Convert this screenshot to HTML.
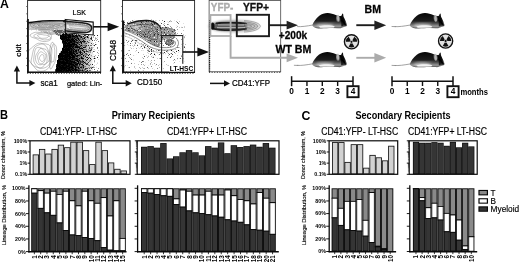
<!DOCTYPE html>
<html><head><meta charset="utf-8"><title>Figure</title>
<style>
html,body{margin:0;padding:0;background:#fff;}
body{width:520px;height:262px;overflow:hidden;}
svg{display:block;font-family:'Liberation Sans', sans-serif;}
</style></head><body>
<svg width="520" height="262" viewBox="0 0 520 262">
<rect width="520" height="262" fill="#fff"/>
<defs>
<marker id="ah" markerWidth="4" markerHeight="4" refX="0.5" refY="2" orient="auto" markerUnits="strokeWidth"><path d="M0,0 L4,2 L0,4 z" fill="#111"/></marker>
</defs>

<text x="0.1" y="8.4" font-size="12.3" font-weight="bold" fill="#000" text-anchor="start" >A</text>
<text x="0.0" y="118.9" font-size="12.3" font-weight="bold" fill="#000" text-anchor="start" textLength="8" lengthAdjust="spacingAndGlyphs" >B</text>
<text x="301.6" y="119.7" font-size="12.3" font-weight="bold" fill="#000" text-anchor="start" >C</text>
<text x="111.7" y="119.3" font-size="10" font-weight="bold" fill="#000" text-anchor="start" textLength="83.5" lengthAdjust="spacingAndGlyphs" >Primary Recipients</text>
<text x="355.5" y="119.3" font-size="10" font-weight="bold" fill="#000" text-anchor="start" textLength="95" lengthAdjust="spacingAndGlyphs" >Secondary Recipients</text>
<text x="40" y="135" font-size="10" font-weight="normal" fill="#000" text-anchor="start" textLength="77" lengthAdjust="spacingAndGlyphs" stroke="#000" stroke-width="0.18">CD41:YFP- LT-HSC</text>
<text x="167" y="135" font-size="10" font-weight="normal" fill="#000" text-anchor="start" textLength="80" lengthAdjust="spacingAndGlyphs" stroke="#000" stroke-width="0.18">CD41:YFP+ LT-HSC</text>
<text x="321.2" y="135" font-size="10" font-weight="normal" fill="#000" text-anchor="start" textLength="77" lengthAdjust="spacingAndGlyphs" stroke="#000" stroke-width="0.18">CD41:YFP- LT-HSC</text>
<text x="408" y="135" font-size="10" font-weight="normal" fill="#000" text-anchor="start" textLength="79" lengthAdjust="spacingAndGlyphs" stroke="#000" stroke-width="0.18">CD41:YFP+ LT-HSC</text>
<text transform="translate(5.3 155) rotate(-90)" font-size="5.3" font-weight="normal" fill="#000" text-anchor="middle" stroke="#000" stroke-width="0.12" textLength="48" lengthAdjust="spacingAndGlyphs">Donor chimerism, %</text>
<text transform="translate(5.9 215) rotate(-90)" font-size="5.3" font-weight="normal" fill="#000" text-anchor="middle" stroke="#000" stroke-width="0.12" textLength="60.5" lengthAdjust="spacingAndGlyphs">Lineage Distribution, %</text>
<text transform="translate(305.4 155) rotate(-90)" font-size="5.3" font-weight="normal" fill="#000" text-anchor="middle" stroke="#000" stroke-width="0.12" textLength="48" lengthAdjust="spacingAndGlyphs">Donor chimerism, %</text>
<text transform="translate(306.4 215) rotate(-90)" font-size="5.3" font-weight="normal" fill="#000" text-anchor="middle" stroke="#000" stroke-width="0.12" textLength="60.5" lengthAdjust="spacingAndGlyphs">Lineage Distribution, %</text>
<rect x="32.70" y="154.46" width="6.27" height="19.84" fill="#0a0a0a"/>
<rect x="33.50" y="155.26" width="4.67" height="18.24" fill="#d2d2d2"/>
<rect x="38.97" y="148.96" width="6.27" height="25.34" fill="#0a0a0a"/>
<rect x="39.77" y="149.76" width="4.67" height="23.74" fill="#d2d2d2"/>
<rect x="45.25" y="153.62" width="6.27" height="20.68" fill="#0a0a0a"/>
<rect x="46.05" y="154.42" width="4.67" height="19.08" fill="#d2d2d2"/>
<rect x="51.52" y="148.96" width="6.27" height="25.34" fill="#0a0a0a"/>
<rect x="52.32" y="149.76" width="4.67" height="23.74" fill="#d2d2d2"/>
<rect x="57.79" y="144.73" width="6.27" height="29.57" fill="#0a0a0a"/>
<rect x="58.59" y="145.53" width="4.67" height="27.97" fill="#d2d2d2"/>
<rect x="64.07" y="147.27" width="6.27" height="27.03" fill="#0a0a0a"/>
<rect x="64.87" y="148.07" width="4.67" height="25.43" fill="#d2d2d2"/>
<rect x="70.34" y="141.77" width="6.27" height="32.53" fill="#0a0a0a"/>
<rect x="71.14" y="142.57" width="4.67" height="30.93" fill="#d2d2d2"/>
<rect x="76.61" y="141.77" width="6.27" height="32.53" fill="#0a0a0a"/>
<rect x="77.41" y="142.57" width="4.67" height="30.93" fill="#d2d2d2"/>
<rect x="82.89" y="150.23" width="6.27" height="24.07" fill="#0a0a0a"/>
<rect x="83.69" y="151.03" width="4.67" height="22.47" fill="#d2d2d2"/>
<rect x="89.16" y="164.19" width="6.27" height="10.11" fill="#0a0a0a"/>
<rect x="89.96" y="164.99" width="4.67" height="8.51" fill="#d2d2d2"/>
<rect x="95.43" y="141.77" width="6.27" height="32.53" fill="#0a0a0a"/>
<rect x="96.23" y="142.57" width="4.67" height="30.93" fill="#d2d2d2"/>
<rect x="101.71" y="150.23" width="6.27" height="24.07" fill="#0a0a0a"/>
<rect x="102.51" y="151.03" width="4.67" height="22.47" fill="#d2d2d2"/>
<rect x="107.98" y="162.50" width="6.27" height="11.80" fill="#0a0a0a"/>
<rect x="108.78" y="163.30" width="4.67" height="10.20" fill="#d2d2d2"/>
<rect x="114.25" y="168.85" width="6.27" height="5.45" fill="#0a0a0a"/>
<rect x="115.05" y="169.65" width="4.67" height="3.85" fill="#d2d2d2"/>
<rect x="120.53" y="170.54" width="6.27" height="3.76" fill="#0a0a0a"/>
<rect x="121.33" y="171.34" width="4.67" height="2.16" fill="#d2d2d2"/>
<rect x="30" y="140.8" width="100" height="33.5" fill="none" stroke="#0a0a0a" stroke-width="1.2"/>
<line x1="27.6" y1="140.80" x2="30" y2="140.80" stroke="#000" stroke-width="0.9"/>
<line x1="27.6" y1="151.97" x2="30" y2="151.97" stroke="#000" stroke-width="0.9"/>
<line x1="27.6" y1="163.13" x2="30" y2="163.13" stroke="#000" stroke-width="0.9"/>
<line x1="27.6" y1="174.30" x2="30" y2="174.30" stroke="#000" stroke-width="0.9"/>
<text x="27.2" y="142.7" font-size="5.3" font-weight="bold" fill="#000" text-anchor="end" >100%</text>
<text x="27.2" y="153.87" font-size="5.3" font-weight="bold" fill="#000" text-anchor="end" >10%</text>
<text x="27.2" y="165.03" font-size="5.3" font-weight="bold" fill="#000" text-anchor="end" >1%</text>
<text x="27.2" y="176.2" font-size="5.3" font-weight="bold" fill="#000" text-anchor="end" >0.1%</text>
<rect x="31.20" y="188.30" width="6.31" height="0.90" fill="#0a0a0a"/>
<rect x="31.20" y="188.30" width="6.31" height="5.33" fill="#0a0a0a"/>
<rect x="32.10" y="189.20" width="4.51" height="3.53" fill="#fff"/>
<rect x="31.20" y="192.73" width="6.31" height="58.87" fill="#0a0a0a"/>
<rect x="32.10" y="193.63" width="4.51" height="57.07" fill="#353535"/>
<line x1="34.35" y1="251.6" x2="34.35" y2="254.2" stroke="#000" stroke-width="0.8"/>
<text transform="translate(36.85 255.20) rotate(-90) scale(0.9 1)" font-size="7" font-weight="bold" text-anchor="end">1</text>
<rect x="37.51" y="188.30" width="6.31" height="2.80" fill="#0a0a0a"/>
<rect x="38.41" y="189.20" width="4.51" height="1.00" fill="#8a8a8a"/>
<rect x="37.51" y="190.20" width="6.31" height="18.62" fill="#0a0a0a"/>
<rect x="38.41" y="191.10" width="4.51" height="16.82" fill="#fff"/>
<rect x="37.51" y="207.92" width="6.31" height="43.68" fill="#0a0a0a"/>
<rect x="38.41" y="208.82" width="4.51" height="41.88" fill="#353535"/>
<line x1="40.66" y1="251.6" x2="40.66" y2="254.2" stroke="#000" stroke-width="0.8"/>
<text transform="translate(43.16 255.20) rotate(-90) scale(0.9 1)" font-size="7" font-weight="bold" text-anchor="end">2</text>
<rect x="43.81" y="188.30" width="6.31" height="5.33" fill="#0a0a0a"/>
<rect x="44.71" y="189.20" width="4.51" height="3.53" fill="#8a8a8a"/>
<rect x="43.81" y="192.73" width="6.31" height="20.52" fill="#0a0a0a"/>
<rect x="44.71" y="193.63" width="4.51" height="18.72" fill="#fff"/>
<rect x="43.81" y="212.35" width="6.31" height="39.25" fill="#0a0a0a"/>
<rect x="44.71" y="213.25" width="4.51" height="37.45" fill="#353535"/>
<line x1="46.97" y1="251.6" x2="46.97" y2="254.2" stroke="#000" stroke-width="0.8"/>
<text transform="translate(49.47 255.20) rotate(-90) scale(0.9 1)" font-size="7" font-weight="bold" text-anchor="end">3</text>
<rect x="50.12" y="188.30" width="6.31" height="3.43" fill="#0a0a0a"/>
<rect x="51.02" y="189.20" width="4.51" height="1.63" fill="#8a8a8a"/>
<rect x="50.12" y="190.83" width="6.31" height="24.95" fill="#0a0a0a"/>
<rect x="51.02" y="191.73" width="4.51" height="23.15" fill="#fff"/>
<rect x="50.12" y="214.89" width="6.31" height="36.71" fill="#0a0a0a"/>
<rect x="51.02" y="215.79" width="4.51" height="34.91" fill="#353535"/>
<line x1="53.27" y1="251.6" x2="53.27" y2="254.2" stroke="#000" stroke-width="0.8"/>
<text transform="translate(55.77 255.20) rotate(-90) scale(0.9 1)" font-size="7" font-weight="bold" text-anchor="end">4</text>
<rect x="56.43" y="188.30" width="6.31" height="6.60" fill="#0a0a0a"/>
<rect x="57.33" y="189.20" width="4.51" height="4.80" fill="#8a8a8a"/>
<rect x="56.43" y="194.00" width="6.31" height="29.38" fill="#0a0a0a"/>
<rect x="57.33" y="194.90" width="4.51" height="27.58" fill="#fff"/>
<rect x="56.43" y="222.48" width="6.31" height="29.12" fill="#0a0a0a"/>
<rect x="57.33" y="223.38" width="4.51" height="27.32" fill="#353535"/>
<line x1="59.58" y1="251.6" x2="59.58" y2="254.2" stroke="#000" stroke-width="0.8"/>
<text transform="translate(62.08 255.20) rotate(-90) scale(0.9 1)" font-size="7" font-weight="bold" text-anchor="end">5</text>
<rect x="62.73" y="188.30" width="6.31" height="3.43" fill="#0a0a0a"/>
<rect x="63.63" y="189.20" width="4.51" height="1.63" fill="#8a8a8a"/>
<rect x="62.73" y="190.83" width="6.31" height="40.15" fill="#0a0a0a"/>
<rect x="63.63" y="191.73" width="4.51" height="38.35" fill="#fff"/>
<rect x="62.73" y="230.08" width="6.31" height="21.52" fill="#0a0a0a"/>
<rect x="63.63" y="230.98" width="4.51" height="19.72" fill="#353535"/>
<line x1="65.89" y1="251.6" x2="65.89" y2="254.2" stroke="#000" stroke-width="0.8"/>
<text transform="translate(68.39 255.20) rotate(-90) scale(0.9 1)" font-size="7" font-weight="bold" text-anchor="end">6</text>
<rect x="69.04" y="188.30" width="6.31" height="12.93" fill="#0a0a0a"/>
<rect x="69.94" y="189.20" width="4.51" height="11.13" fill="#8a8a8a"/>
<rect x="69.04" y="200.33" width="6.31" height="35.08" fill="#0a0a0a"/>
<rect x="69.94" y="201.23" width="4.51" height="33.28" fill="#fff"/>
<rect x="69.04" y="234.51" width="6.31" height="17.09" fill="#0a0a0a"/>
<rect x="69.94" y="235.41" width="4.51" height="15.29" fill="#353535"/>
<line x1="72.19" y1="251.6" x2="72.19" y2="254.2" stroke="#000" stroke-width="0.8"/>
<text transform="translate(74.69 255.20) rotate(-90) scale(0.9 1)" font-size="7" font-weight="bold" text-anchor="end">7</text>
<rect x="75.35" y="188.30" width="6.31" height="17.99" fill="#0a0a0a"/>
<rect x="76.25" y="189.20" width="4.51" height="16.19" fill="#8a8a8a"/>
<rect x="75.35" y="205.39" width="6.31" height="30.65" fill="#0a0a0a"/>
<rect x="76.25" y="206.29" width="4.51" height="28.85" fill="#fff"/>
<rect x="75.35" y="235.14" width="6.31" height="16.46" fill="#0a0a0a"/>
<rect x="76.25" y="236.04" width="4.51" height="14.66" fill="#353535"/>
<line x1="78.50" y1="251.6" x2="78.50" y2="254.2" stroke="#000" stroke-width="0.8"/>
<text transform="translate(81.00 255.20) rotate(-90) scale(0.9 1)" font-size="7" font-weight="bold" text-anchor="end">8</text>
<rect x="81.65" y="188.30" width="6.31" height="3.43" fill="#0a0a0a"/>
<rect x="82.55" y="189.20" width="4.51" height="1.63" fill="#8a8a8a"/>
<rect x="81.65" y="190.83" width="6.31" height="47.11" fill="#0a0a0a"/>
<rect x="82.55" y="191.73" width="4.51" height="45.31" fill="#fff"/>
<rect x="81.65" y="237.04" width="6.31" height="14.56" fill="#0a0a0a"/>
<rect x="82.55" y="237.94" width="4.51" height="12.76" fill="#353535"/>
<line x1="84.81" y1="251.6" x2="84.81" y2="254.2" stroke="#000" stroke-width="0.8"/>
<text transform="translate(87.31 255.20) rotate(-90) scale(0.9 1)" font-size="7" font-weight="bold" text-anchor="end">9</text>
<rect x="87.96" y="188.30" width="6.31" height="12.93" fill="#0a0a0a"/>
<rect x="88.86" y="189.20" width="4.51" height="11.13" fill="#8a8a8a"/>
<rect x="87.96" y="200.33" width="6.31" height="38.56" fill="#0a0a0a"/>
<rect x="88.86" y="201.23" width="4.51" height="36.76" fill="#fff"/>
<rect x="87.96" y="237.99" width="6.31" height="13.61" fill="#0a0a0a"/>
<rect x="88.86" y="238.89" width="4.51" height="11.81" fill="#353535"/>
<line x1="91.11" y1="251.6" x2="91.11" y2="254.2" stroke="#000" stroke-width="0.8"/>
<text transform="translate(93.61 255.20) rotate(-90) scale(0.9 1)" font-size="7" font-weight="bold" text-anchor="end">10</text>
<rect x="94.27" y="188.30" width="6.31" height="15.46" fill="#0a0a0a"/>
<rect x="95.17" y="189.20" width="4.51" height="13.66" fill="#8a8a8a"/>
<rect x="94.27" y="202.86" width="6.31" height="38.25" fill="#0a0a0a"/>
<rect x="95.17" y="203.76" width="4.51" height="36.45" fill="#fff"/>
<rect x="94.27" y="240.21" width="6.31" height="11.39" fill="#0a0a0a"/>
<rect x="95.17" y="241.11" width="4.51" height="9.59" fill="#353535"/>
<line x1="97.42" y1="251.6" x2="97.42" y2="254.2" stroke="#000" stroke-width="0.8"/>
<text transform="translate(99.92 255.20) rotate(-90) scale(0.9 1)" font-size="7" font-weight="bold" text-anchor="end">11</text>
<rect x="100.57" y="188.30" width="6.31" height="9.76" fill="#0a0a0a"/>
<rect x="101.47" y="189.20" width="4.51" height="7.96" fill="#8a8a8a"/>
<rect x="100.57" y="197.16" width="6.31" height="50.91" fill="#0a0a0a"/>
<rect x="101.47" y="198.06" width="4.51" height="49.11" fill="#fff"/>
<rect x="100.57" y="247.17" width="6.31" height="4.43" fill="#0a0a0a"/>
<rect x="101.47" y="248.07" width="4.51" height="2.63" fill="#353535"/>
<line x1="103.73" y1="251.6" x2="103.73" y2="254.2" stroke="#000" stroke-width="0.8"/>
<text transform="translate(106.23 255.20) rotate(-90) scale(0.9 1)" font-size="7" font-weight="bold" text-anchor="end">12</text>
<rect x="106.88" y="188.30" width="6.31" height="28.12" fill="#0a0a0a"/>
<rect x="107.78" y="189.20" width="4.51" height="26.32" fill="#8a8a8a"/>
<rect x="106.88" y="215.52" width="6.31" height="35.08" fill="#0a0a0a"/>
<rect x="107.78" y="216.42" width="4.51" height="33.28" fill="#fff"/>
<rect x="106.88" y="249.70" width="6.31" height="1.90" fill="#0a0a0a"/>
<rect x="107.78" y="250.60" width="4.51" height="0.10" fill="#353535"/>
<line x1="110.03" y1="251.6" x2="110.03" y2="254.2" stroke="#000" stroke-width="0.8"/>
<text transform="translate(112.53 255.20) rotate(-90) scale(0.9 1)" font-size="7" font-weight="bold" text-anchor="end">13</text>
<rect x="113.19" y="188.30" width="6.31" height="12.93" fill="#0a0a0a"/>
<rect x="114.09" y="189.20" width="4.51" height="11.13" fill="#8a8a8a"/>
<rect x="113.19" y="200.33" width="6.31" height="50.91" fill="#0a0a0a"/>
<rect x="114.09" y="201.23" width="4.51" height="49.11" fill="#fff"/>
<rect x="113.19" y="250.33" width="6.31" height="1.27" fill="#0a0a0a"/>
<line x1="116.34" y1="251.6" x2="116.34" y2="254.2" stroke="#000" stroke-width="0.8"/>
<text transform="translate(118.84 255.20) rotate(-90) scale(0.9 1)" font-size="7" font-weight="bold" text-anchor="end">14</text>
<rect x="119.49" y="188.30" width="6.31" height="50.59" fill="#0a0a0a"/>
<rect x="120.39" y="189.20" width="4.51" height="48.79" fill="#8a8a8a"/>
<rect x="119.49" y="237.99" width="6.31" height="13.24" fill="#0a0a0a"/>
<rect x="120.39" y="238.89" width="4.51" height="11.44" fill="#fff"/>
<rect x="119.49" y="250.33" width="6.31" height="1.27" fill="#0a0a0a"/>
<line x1="122.65" y1="251.6" x2="122.65" y2="254.2" stroke="#000" stroke-width="0.8"/>
<text transform="translate(125.15 255.20) rotate(-90) scale(0.9 1)" font-size="7" font-weight="bold" text-anchor="end">15</text>
<line x1="28.9" y1="185.3" x2="28.9" y2="252.4" stroke="#0a0a0a" stroke-width="1.3"/>
<line x1="28.299999999999997" y1="251.79999999999998" x2="126.5" y2="251.79999999999998" stroke="#0a0a0a" stroke-width="1.6"/>
<line x1="25.9" y1="188.30" x2="28.9" y2="188.30" stroke="#000" stroke-width="0.9"/>
<text x="25.599999999999998" y="190.2" font-size="5.3" font-weight="bold" fill="#000" text-anchor="end" >100%</text>
<line x1="25.9" y1="200.96" x2="28.9" y2="200.96" stroke="#000" stroke-width="0.9"/>
<text x="25.599999999999998" y="202.86" font-size="5.3" font-weight="bold" fill="#000" text-anchor="end" >80%</text>
<line x1="25.9" y1="213.62" x2="28.9" y2="213.62" stroke="#000" stroke-width="0.9"/>
<text x="25.599999999999998" y="215.52" font-size="5.3" font-weight="bold" fill="#000" text-anchor="end" >60%</text>
<line x1="25.9" y1="226.28" x2="28.9" y2="226.28" stroke="#000" stroke-width="0.9"/>
<text x="25.599999999999998" y="228.18" font-size="5.3" font-weight="bold" fill="#000" text-anchor="end" >40%</text>
<line x1="25.9" y1="238.94" x2="28.9" y2="238.94" stroke="#000" stroke-width="0.9"/>
<text x="25.599999999999998" y="240.84" font-size="5.3" font-weight="bold" fill="#000" text-anchor="end" >20%</text>
<line x1="25.9" y1="251.60" x2="28.9" y2="251.60" stroke="#000" stroke-width="0.9"/>
<text x="25.599999999999998" y="253.5" font-size="5.3" font-weight="bold" fill="#000" text-anchor="end" >0%</text>
<rect x="141.00" y="146.77" width="6.40" height="27.53" fill="#0a0a0a"/>
<rect x="141.65" y="147.42" width="5.10" height="26.23" fill="#353535"/>
<rect x="147.40" y="146.15" width="6.40" height="28.15" fill="#0a0a0a"/>
<rect x="148.05" y="146.80" width="5.10" height="26.85" fill="#353535"/>
<rect x="153.81" y="147.69" width="6.40" height="26.61" fill="#0a0a0a"/>
<rect x="154.46" y="148.34" width="5.10" height="25.31" fill="#353535"/>
<rect x="160.21" y="143.08" width="6.40" height="31.22" fill="#0a0a0a"/>
<rect x="160.86" y="143.73" width="5.10" height="29.92" fill="#353535"/>
<rect x="166.62" y="158.46" width="6.40" height="15.84" fill="#0a0a0a"/>
<rect x="167.27" y="159.11" width="5.10" height="14.54" fill="#353535"/>
<rect x="173.02" y="156.31" width="6.40" height="17.99" fill="#0a0a0a"/>
<rect x="173.67" y="156.96" width="5.10" height="16.69" fill="#353535"/>
<rect x="179.43" y="152.31" width="6.40" height="21.99" fill="#0a0a0a"/>
<rect x="180.08" y="152.96" width="5.10" height="20.69" fill="#353535"/>
<rect x="185.83" y="150.15" width="6.40" height="24.15" fill="#0a0a0a"/>
<rect x="186.48" y="150.80" width="5.10" height="22.85" fill="#353535"/>
<rect x="192.24" y="152.31" width="6.40" height="21.99" fill="#0a0a0a"/>
<rect x="192.89" y="152.96" width="5.10" height="20.69" fill="#353535"/>
<rect x="198.64" y="155.38" width="6.40" height="18.92" fill="#0a0a0a"/>
<rect x="199.29" y="156.03" width="5.10" height="17.62" fill="#353535"/>
<rect x="205.05" y="146.15" width="6.40" height="28.15" fill="#0a0a0a"/>
<rect x="205.70" y="146.80" width="5.10" height="26.85" fill="#353535"/>
<rect x="211.45" y="147.69" width="6.40" height="26.61" fill="#0a0a0a"/>
<rect x="212.10" y="148.34" width="5.10" height="25.31" fill="#353535"/>
<rect x="217.86" y="142.46" width="6.40" height="31.84" fill="#0a0a0a"/>
<rect x="218.51" y="143.11" width="5.10" height="30.54" fill="#353535"/>
<rect x="224.26" y="153.23" width="6.40" height="21.07" fill="#0a0a0a"/>
<rect x="224.91" y="153.88" width="5.10" height="19.77" fill="#353535"/>
<rect x="230.67" y="145.23" width="6.40" height="29.07" fill="#0a0a0a"/>
<rect x="231.32" y="145.88" width="5.10" height="27.77" fill="#353535"/>
<rect x="237.07" y="147.08" width="6.40" height="27.22" fill="#0a0a0a"/>
<rect x="237.72" y="147.73" width="5.10" height="25.92" fill="#353535"/>
<rect x="243.48" y="146.15" width="6.40" height="28.15" fill="#0a0a0a"/>
<rect x="244.13" y="146.80" width="5.10" height="26.85" fill="#353535"/>
<rect x="249.88" y="144.62" width="6.40" height="29.68" fill="#0a0a0a"/>
<rect x="250.53" y="145.27" width="5.10" height="28.38" fill="#353535"/>
<rect x="256.29" y="146.77" width="6.40" height="27.53" fill="#0a0a0a"/>
<rect x="256.94" y="147.42" width="5.10" height="26.23" fill="#353535"/>
<rect x="262.69" y="143.08" width="6.40" height="31.22" fill="#0a0a0a"/>
<rect x="263.34" y="143.73" width="5.10" height="29.92" fill="#353535"/>
<rect x="269.10" y="147.69" width="6.40" height="26.61" fill="#0a0a0a"/>
<rect x="269.75" y="148.34" width="5.10" height="25.31" fill="#353535"/>
<rect x="137.2" y="140.8" width="141.8" height="33.5" fill="none" stroke="#0a0a0a" stroke-width="1.2"/>
<line x1="134.79999999999998" y1="140.80" x2="137.2" y2="140.80" stroke="#000" stroke-width="0.9"/>
<line x1="134.79999999999998" y1="151.97" x2="137.2" y2="151.97" stroke="#000" stroke-width="0.9"/>
<line x1="134.79999999999998" y1="163.13" x2="137.2" y2="163.13" stroke="#000" stroke-width="0.9"/>
<line x1="134.79999999999998" y1="174.30" x2="137.2" y2="174.30" stroke="#000" stroke-width="0.9"/>
<line x1="135.89999999999998" y1="148.61" x2="137.2" y2="148.61" stroke="#000" stroke-width="0.45"/>
<line x1="135.89999999999998" y1="146.64" x2="137.2" y2="146.64" stroke="#000" stroke-width="0.45"/>
<line x1="135.89999999999998" y1="145.24" x2="137.2" y2="145.24" stroke="#000" stroke-width="0.45"/>
<line x1="135.89999999999998" y1="144.16" x2="137.2" y2="144.16" stroke="#000" stroke-width="0.45"/>
<line x1="135.89999999999998" y1="143.28" x2="137.2" y2="143.28" stroke="#000" stroke-width="0.45"/>
<line x1="135.89999999999998" y1="142.53" x2="137.2" y2="142.53" stroke="#000" stroke-width="0.45"/>
<line x1="135.89999999999998" y1="141.88" x2="137.2" y2="141.88" stroke="#000" stroke-width="0.45"/>
<line x1="135.89999999999998" y1="141.31" x2="137.2" y2="141.31" stroke="#000" stroke-width="0.45"/>
<line x1="135.89999999999998" y1="159.77" x2="137.2" y2="159.77" stroke="#000" stroke-width="0.45"/>
<line x1="135.89999999999998" y1="157.81" x2="137.2" y2="157.81" stroke="#000" stroke-width="0.45"/>
<line x1="135.89999999999998" y1="156.41" x2="137.2" y2="156.41" stroke="#000" stroke-width="0.45"/>
<line x1="135.89999999999998" y1="155.33" x2="137.2" y2="155.33" stroke="#000" stroke-width="0.45"/>
<line x1="135.89999999999998" y1="154.44" x2="137.2" y2="154.44" stroke="#000" stroke-width="0.45"/>
<line x1="135.89999999999998" y1="153.70" x2="137.2" y2="153.70" stroke="#000" stroke-width="0.45"/>
<line x1="135.89999999999998" y1="153.05" x2="137.2" y2="153.05" stroke="#000" stroke-width="0.45"/>
<line x1="135.89999999999998" y1="152.48" x2="137.2" y2="152.48" stroke="#000" stroke-width="0.45"/>
<line x1="135.89999999999998" y1="170.94" x2="137.2" y2="170.94" stroke="#000" stroke-width="0.45"/>
<line x1="135.89999999999998" y1="168.97" x2="137.2" y2="168.97" stroke="#000" stroke-width="0.45"/>
<line x1="135.89999999999998" y1="167.58" x2="137.2" y2="167.58" stroke="#000" stroke-width="0.45"/>
<line x1="135.89999999999998" y1="166.49" x2="137.2" y2="166.49" stroke="#000" stroke-width="0.45"/>
<line x1="135.89999999999998" y1="165.61" x2="137.2" y2="165.61" stroke="#000" stroke-width="0.45"/>
<line x1="135.89999999999998" y1="164.86" x2="137.2" y2="164.86" stroke="#000" stroke-width="0.45"/>
<line x1="135.89999999999998" y1="164.22" x2="137.2" y2="164.22" stroke="#000" stroke-width="0.45"/>
<line x1="135.89999999999998" y1="163.64" x2="137.2" y2="163.64" stroke="#000" stroke-width="0.45"/>
<rect x="141.00" y="188.30" width="6.42" height="0.90" fill="#0a0a0a"/>
<rect x="141.00" y="188.30" width="6.42" height="4.70" fill="#0a0a0a"/>
<rect x="141.90" y="189.20" width="4.62" height="2.90" fill="#fff"/>
<rect x="141.00" y="192.10" width="6.42" height="59.50" fill="#0a0a0a"/>
<rect x="141.90" y="193.00" width="4.62" height="57.70" fill="#353535"/>
<line x1="144.21" y1="251.6" x2="144.21" y2="254.2" stroke="#000" stroke-width="0.8"/>
<text transform="translate(146.71 255.20) rotate(-90) scale(0.9 1)" font-size="7" font-weight="bold" text-anchor="end">1</text>
<rect x="147.42" y="188.30" width="6.42" height="0.90" fill="#0a0a0a"/>
<rect x="147.42" y="188.30" width="6.42" height="5.33" fill="#0a0a0a"/>
<rect x="148.32" y="189.20" width="4.62" height="3.53" fill="#fff"/>
<rect x="147.42" y="192.73" width="6.42" height="58.87" fill="#0a0a0a"/>
<rect x="148.32" y="193.63" width="4.62" height="57.07" fill="#353535"/>
<line x1="150.63" y1="251.6" x2="150.63" y2="254.2" stroke="#000" stroke-width="0.8"/>
<text transform="translate(153.13 255.20) rotate(-90) scale(0.9 1)" font-size="7" font-weight="bold" text-anchor="end">2</text>
<rect x="153.84" y="188.30" width="6.42" height="0.90" fill="#0a0a0a"/>
<rect x="153.84" y="188.30" width="6.42" height="6.60" fill="#0a0a0a"/>
<rect x="154.74" y="189.20" width="4.62" height="4.80" fill="#fff"/>
<rect x="153.84" y="194.00" width="6.42" height="57.60" fill="#0a0a0a"/>
<rect x="154.74" y="194.90" width="4.62" height="55.80" fill="#353535"/>
<line x1="157.05" y1="251.6" x2="157.05" y2="254.2" stroke="#000" stroke-width="0.8"/>
<text transform="translate(159.55 255.20) rotate(-90) scale(0.9 1)" font-size="7" font-weight="bold" text-anchor="end">3</text>
<rect x="160.26" y="188.30" width="6.42" height="0.90" fill="#0a0a0a"/>
<rect x="160.26" y="188.30" width="6.42" height="7.86" fill="#0a0a0a"/>
<rect x="161.16" y="189.20" width="4.62" height="6.06" fill="#fff"/>
<rect x="160.26" y="195.26" width="6.42" height="56.34" fill="#0a0a0a"/>
<rect x="161.16" y="196.16" width="4.62" height="54.54" fill="#353535"/>
<line x1="163.47" y1="251.6" x2="163.47" y2="254.2" stroke="#000" stroke-width="0.8"/>
<text transform="translate(165.97 255.20) rotate(-90) scale(0.9 1)" font-size="7" font-weight="bold" text-anchor="end">4</text>
<rect x="166.68" y="188.30" width="6.42" height="0.90" fill="#0a0a0a"/>
<rect x="166.68" y="188.30" width="6.42" height="8.50" fill="#0a0a0a"/>
<rect x="167.58" y="189.20" width="4.62" height="6.70" fill="#fff"/>
<rect x="166.68" y="195.90" width="6.42" height="55.70" fill="#0a0a0a"/>
<rect x="167.58" y="196.80" width="4.62" height="53.90" fill="#353535"/>
<line x1="169.89" y1="251.6" x2="169.89" y2="254.2" stroke="#000" stroke-width="0.8"/>
<text transform="translate(172.39 255.20) rotate(-90) scale(0.9 1)" font-size="7" font-weight="bold" text-anchor="end">5</text>
<rect x="173.10" y="188.30" width="6.42" height="11.03" fill="#0a0a0a"/>
<rect x="174.00" y="189.20" width="4.62" height="9.23" fill="#8a8a8a"/>
<rect x="173.10" y="198.43" width="6.42" height="6.60" fill="#0a0a0a"/>
<rect x="174.00" y="199.33" width="4.62" height="4.80" fill="#fff"/>
<rect x="173.10" y="204.12" width="6.42" height="47.47" fill="#0a0a0a"/>
<rect x="174.00" y="205.03" width="4.62" height="45.67" fill="#353535"/>
<line x1="176.30" y1="251.6" x2="176.30" y2="254.2" stroke="#000" stroke-width="0.8"/>
<text transform="translate(178.80 255.20) rotate(-90) scale(0.9 1)" font-size="7" font-weight="bold" text-anchor="end">6</text>
<rect x="179.51" y="188.30" width="6.42" height="2.17" fill="#0a0a0a"/>
<rect x="180.41" y="189.20" width="4.62" height="0.37" fill="#8a8a8a"/>
<rect x="179.51" y="189.57" width="6.42" height="17.99" fill="#0a0a0a"/>
<rect x="180.41" y="190.47" width="4.62" height="16.19" fill="#fff"/>
<rect x="179.51" y="206.66" width="6.42" height="44.94" fill="#0a0a0a"/>
<rect x="180.41" y="207.56" width="4.62" height="43.14" fill="#353535"/>
<line x1="182.72" y1="251.6" x2="182.72" y2="254.2" stroke="#000" stroke-width="0.8"/>
<text transform="translate(185.22 255.20) rotate(-90) scale(0.9 1)" font-size="7" font-weight="bold" text-anchor="end">7</text>
<rect x="185.93" y="188.30" width="6.42" height="3.43" fill="#0a0a0a"/>
<rect x="186.83" y="189.20" width="4.62" height="1.63" fill="#8a8a8a"/>
<rect x="185.93" y="190.83" width="6.42" height="20.52" fill="#0a0a0a"/>
<rect x="186.83" y="191.73" width="4.62" height="18.72" fill="#fff"/>
<rect x="185.93" y="210.46" width="6.42" height="41.14" fill="#0a0a0a"/>
<rect x="186.83" y="211.36" width="4.62" height="39.34" fill="#353535"/>
<line x1="189.14" y1="251.6" x2="189.14" y2="254.2" stroke="#000" stroke-width="0.8"/>
<text transform="translate(191.64 255.20) rotate(-90) scale(0.9 1)" font-size="7" font-weight="bold" text-anchor="end">8</text>
<rect x="192.35" y="188.30" width="6.42" height="7.23" fill="#0a0a0a"/>
<rect x="193.25" y="189.20" width="4.62" height="5.43" fill="#8a8a8a"/>
<rect x="192.35" y="194.63" width="6.42" height="18.62" fill="#0a0a0a"/>
<rect x="193.25" y="195.53" width="4.62" height="16.82" fill="#fff"/>
<rect x="192.35" y="212.35" width="6.42" height="39.25" fill="#0a0a0a"/>
<rect x="193.25" y="213.25" width="4.62" height="37.45" fill="#353535"/>
<line x1="195.56" y1="251.6" x2="195.56" y2="254.2" stroke="#000" stroke-width="0.8"/>
<text transform="translate(198.06 255.20) rotate(-90) scale(0.9 1)" font-size="7" font-weight="bold" text-anchor="end">9</text>
<rect x="198.77" y="188.30" width="6.42" height="7.23" fill="#0a0a0a"/>
<rect x="199.67" y="189.20" width="4.62" height="5.43" fill="#8a8a8a"/>
<rect x="198.77" y="194.63" width="6.42" height="19.26" fill="#0a0a0a"/>
<rect x="199.67" y="195.53" width="4.62" height="17.46" fill="#fff"/>
<rect x="198.77" y="212.99" width="6.42" height="38.61" fill="#0a0a0a"/>
<rect x="199.67" y="213.89" width="4.62" height="36.81" fill="#353535"/>
<line x1="201.98" y1="251.6" x2="201.98" y2="254.2" stroke="#000" stroke-width="0.8"/>
<text transform="translate(204.48 255.20) rotate(-90) scale(0.9 1)" font-size="7" font-weight="bold" text-anchor="end">10</text>
<rect x="205.19" y="188.30" width="6.42" height="3.43" fill="#0a0a0a"/>
<rect x="206.09" y="189.20" width="4.62" height="1.63" fill="#8a8a8a"/>
<rect x="205.19" y="190.83" width="6.42" height="24.32" fill="#0a0a0a"/>
<rect x="206.09" y="191.73" width="4.62" height="22.52" fill="#fff"/>
<rect x="205.19" y="214.25" width="6.42" height="37.35" fill="#0a0a0a"/>
<rect x="206.09" y="215.15" width="4.62" height="35.55" fill="#353535"/>
<line x1="208.40" y1="251.6" x2="208.40" y2="254.2" stroke="#000" stroke-width="0.8"/>
<text transform="translate(210.90 255.20) rotate(-90) scale(0.9 1)" font-size="7" font-weight="bold" text-anchor="end">11</text>
<rect x="211.61" y="188.30" width="6.42" height="7.23" fill="#0a0a0a"/>
<rect x="212.51" y="189.20" width="4.62" height="5.43" fill="#8a8a8a"/>
<rect x="211.61" y="194.63" width="6.42" height="21.79" fill="#0a0a0a"/>
<rect x="212.51" y="195.53" width="4.62" height="19.99" fill="#fff"/>
<rect x="211.61" y="215.52" width="6.42" height="36.08" fill="#0a0a0a"/>
<rect x="212.51" y="216.42" width="4.62" height="34.28" fill="#353535"/>
<line x1="214.82" y1="251.6" x2="214.82" y2="254.2" stroke="#000" stroke-width="0.8"/>
<text transform="translate(217.32 255.20) rotate(-90) scale(0.9 1)" font-size="7" font-weight="bold" text-anchor="end">12</text>
<rect x="218.03" y="188.30" width="6.42" height="7.23" fill="#0a0a0a"/>
<rect x="218.93" y="189.20" width="4.62" height="5.43" fill="#8a8a8a"/>
<rect x="218.03" y="194.63" width="6.42" height="23.05" fill="#0a0a0a"/>
<rect x="218.93" y="195.53" width="4.62" height="21.25" fill="#fff"/>
<rect x="218.03" y="216.78" width="6.42" height="34.81" fill="#0a0a0a"/>
<rect x="218.93" y="217.69" width="4.62" height="33.02" fill="#353535"/>
<line x1="221.24" y1="251.6" x2="221.24" y2="254.2" stroke="#000" stroke-width="0.8"/>
<text transform="translate(223.74 255.20) rotate(-90) scale(0.9 1)" font-size="7" font-weight="bold" text-anchor="end">13</text>
<rect x="224.45" y="188.30" width="6.42" height="2.17" fill="#0a0a0a"/>
<rect x="225.35" y="189.20" width="4.62" height="0.37" fill="#8a8a8a"/>
<rect x="224.45" y="189.57" width="6.42" height="30.65" fill="#0a0a0a"/>
<rect x="225.35" y="190.47" width="4.62" height="28.85" fill="#fff"/>
<rect x="224.45" y="219.32" width="6.42" height="32.28" fill="#0a0a0a"/>
<rect x="225.35" y="220.22" width="4.62" height="30.48" fill="#353535"/>
<line x1="227.66" y1="251.6" x2="227.66" y2="254.2" stroke="#000" stroke-width="0.8"/>
<text transform="translate(230.16 255.20) rotate(-90) scale(0.9 1)" font-size="7" font-weight="bold" text-anchor="end">14</text>
<rect x="230.87" y="188.30" width="6.42" height="7.86" fill="#0a0a0a"/>
<rect x="231.77" y="189.20" width="4.62" height="6.06" fill="#8a8a8a"/>
<rect x="230.87" y="195.26" width="6.42" height="26.22" fill="#0a0a0a"/>
<rect x="231.77" y="196.16" width="4.62" height="24.42" fill="#fff"/>
<rect x="230.87" y="220.58" width="6.42" height="31.02" fill="#0a0a0a"/>
<rect x="231.77" y="221.48" width="4.62" height="29.22" fill="#353535"/>
<line x1="234.08" y1="251.6" x2="234.08" y2="254.2" stroke="#000" stroke-width="0.8"/>
<text transform="translate(236.58 255.20) rotate(-90) scale(0.9 1)" font-size="7" font-weight="bold" text-anchor="end">15</text>
<rect x="237.29" y="188.30" width="6.42" height="11.66" fill="#0a0a0a"/>
<rect x="238.19" y="189.20" width="4.62" height="9.86" fill="#8a8a8a"/>
<rect x="237.29" y="199.06" width="6.42" height="23.69" fill="#0a0a0a"/>
<rect x="238.19" y="199.96" width="4.62" height="21.89" fill="#fff"/>
<rect x="237.29" y="221.85" width="6.42" height="29.75" fill="#0a0a0a"/>
<rect x="238.19" y="222.75" width="4.62" height="27.95" fill="#353535"/>
<line x1="240.50" y1="251.6" x2="240.50" y2="254.2" stroke="#000" stroke-width="0.8"/>
<text transform="translate(243.00 255.20) rotate(-90) scale(0.9 1)" font-size="7" font-weight="bold" text-anchor="end">16</text>
<rect x="243.70" y="188.30" width="6.42" height="12.93" fill="#0a0a0a"/>
<rect x="244.60" y="189.20" width="4.62" height="11.13" fill="#8a8a8a"/>
<rect x="243.70" y="200.33" width="6.42" height="24.95" fill="#0a0a0a"/>
<rect x="244.60" y="201.23" width="4.62" height="23.15" fill="#fff"/>
<rect x="243.70" y="224.38" width="6.42" height="27.22" fill="#0a0a0a"/>
<rect x="244.60" y="225.28" width="4.62" height="25.42" fill="#353535"/>
<line x1="246.91" y1="251.6" x2="246.91" y2="254.2" stroke="#000" stroke-width="0.8"/>
<text transform="translate(249.41 255.20) rotate(-90) scale(0.9 1)" font-size="7" font-weight="bold" text-anchor="end">17</text>
<rect x="250.12" y="188.30" width="6.42" height="16.09" fill="#0a0a0a"/>
<rect x="251.02" y="189.20" width="4.62" height="14.29" fill="#8a8a8a"/>
<rect x="250.12" y="203.49" width="6.42" height="26.54" fill="#0a0a0a"/>
<rect x="251.02" y="204.39" width="4.62" height="24.74" fill="#fff"/>
<rect x="250.12" y="229.13" width="6.42" height="22.47" fill="#0a0a0a"/>
<rect x="251.02" y="230.03" width="4.62" height="20.67" fill="#353535"/>
<line x1="253.33" y1="251.6" x2="253.33" y2="254.2" stroke="#000" stroke-width="0.8"/>
<text transform="translate(255.83 255.20) rotate(-90) scale(0.9 1)" font-size="7" font-weight="bold" text-anchor="end">18</text>
<rect x="256.54" y="188.30" width="6.42" height="4.70" fill="#0a0a0a"/>
<rect x="257.44" y="189.20" width="4.62" height="2.90" fill="#8a8a8a"/>
<rect x="256.54" y="192.10" width="6.42" height="38.56" fill="#0a0a0a"/>
<rect x="257.44" y="193.00" width="4.62" height="36.76" fill="#fff"/>
<rect x="256.54" y="229.76" width="6.42" height="21.84" fill="#0a0a0a"/>
<rect x="257.44" y="230.66" width="4.62" height="20.04" fill="#353535"/>
<line x1="259.75" y1="251.6" x2="259.75" y2="254.2" stroke="#000" stroke-width="0.8"/>
<text transform="translate(262.25 255.20) rotate(-90) scale(0.9 1)" font-size="7" font-weight="bold" text-anchor="end">19</text>
<rect x="262.96" y="188.30" width="6.42" height="10.40" fill="#0a0a0a"/>
<rect x="263.86" y="189.20" width="4.62" height="8.60" fill="#8a8a8a"/>
<rect x="262.96" y="197.80" width="6.42" height="33.82" fill="#0a0a0a"/>
<rect x="263.86" y="198.70" width="4.62" height="32.02" fill="#fff"/>
<rect x="262.96" y="230.71" width="6.42" height="20.89" fill="#0a0a0a"/>
<rect x="263.86" y="231.61" width="4.62" height="19.09" fill="#353535"/>
<line x1="266.17" y1="251.6" x2="266.17" y2="254.2" stroke="#000" stroke-width="0.8"/>
<text transform="translate(268.67 255.20) rotate(-90) scale(0.9 1)" font-size="7" font-weight="bold" text-anchor="end">20</text>
<rect x="269.38" y="188.30" width="6.42" height="14.83" fill="#0a0a0a"/>
<rect x="270.28" y="189.20" width="4.62" height="13.03" fill="#8a8a8a"/>
<rect x="269.38" y="202.23" width="6.42" height="32.55" fill="#0a0a0a"/>
<rect x="270.28" y="203.13" width="4.62" height="30.75" fill="#fff"/>
<rect x="269.38" y="233.88" width="6.42" height="17.72" fill="#0a0a0a"/>
<rect x="270.28" y="234.78" width="4.62" height="15.92" fill="#353535"/>
<line x1="272.59" y1="251.6" x2="272.59" y2="254.2" stroke="#000" stroke-width="0.8"/>
<text transform="translate(275.09 255.20) rotate(-90) scale(0.9 1)" font-size="7" font-weight="bold" text-anchor="end">21</text>
<line x1="137.6" y1="185.3" x2="137.6" y2="252.4" stroke="#0a0a0a" stroke-width="1.3"/>
<line x1="137.0" y1="251.79999999999998" x2="278.8" y2="251.79999999999998" stroke="#0a0a0a" stroke-width="1.6"/>
<line x1="134.6" y1="188.30" x2="137.6" y2="188.30" stroke="#000" stroke-width="0.9"/>
<line x1="134.6" y1="200.96" x2="137.6" y2="200.96" stroke="#000" stroke-width="0.9"/>
<line x1="134.6" y1="213.62" x2="137.6" y2="213.62" stroke="#000" stroke-width="0.9"/>
<line x1="134.6" y1="226.28" x2="137.6" y2="226.28" stroke="#000" stroke-width="0.9"/>
<line x1="134.6" y1="238.94" x2="137.6" y2="238.94" stroke="#000" stroke-width="0.9"/>
<line x1="134.6" y1="251.60" x2="137.6" y2="251.60" stroke="#000" stroke-width="0.9"/>
<rect x="332.00" y="142.11" width="6.24" height="32.19" fill="#0a0a0a"/>
<rect x="332.80" y="142.91" width="4.64" height="30.59" fill="#d2d2d2"/>
<rect x="338.24" y="142.11" width="6.24" height="32.19" fill="#0a0a0a"/>
<rect x="339.04" y="142.91" width="4.64" height="30.59" fill="#d2d2d2"/>
<rect x="344.48" y="161.95" width="6.24" height="12.35" fill="#0a0a0a"/>
<rect x="345.28" y="162.75" width="4.64" height="10.75" fill="#d2d2d2"/>
<rect x="350.72" y="144.25" width="6.24" height="30.05" fill="#0a0a0a"/>
<rect x="351.52" y="145.05" width="4.64" height="28.45" fill="#d2d2d2"/>
<rect x="356.96" y="144.25" width="6.24" height="30.05" fill="#0a0a0a"/>
<rect x="357.76" y="145.05" width="4.64" height="28.45" fill="#d2d2d2"/>
<rect x="363.20" y="167.74" width="6.24" height="6.56" fill="#0a0a0a"/>
<rect x="364.00" y="168.54" width="4.64" height="4.96" fill="#d2d2d2"/>
<rect x="369.44" y="154.93" width="6.24" height="19.37" fill="#0a0a0a"/>
<rect x="370.24" y="155.73" width="4.64" height="17.77" fill="#d2d2d2"/>
<rect x="375.68" y="157.37" width="6.24" height="16.93" fill="#0a0a0a"/>
<rect x="376.48" y="158.17" width="4.64" height="15.33" fill="#d2d2d2"/>
<rect x="381.92" y="160.42" width="6.24" height="13.88" fill="#0a0a0a"/>
<rect x="382.72" y="161.22" width="4.64" height="12.28" fill="#d2d2d2"/>
<rect x="388.16" y="145.77" width="6.24" height="28.53" fill="#0a0a0a"/>
<rect x="388.96" y="146.57" width="4.64" height="26.93" fill="#d2d2d2"/>
<rect x="329.1" y="140.8" width="68.59999999999997" height="33.5" fill="none" stroke="#0a0a0a" stroke-width="1.2"/>
<line x1="326.70000000000005" y1="140.80" x2="329.1" y2="140.80" stroke="#000" stroke-width="0.9"/>
<line x1="326.70000000000005" y1="151.97" x2="329.1" y2="151.97" stroke="#000" stroke-width="0.9"/>
<line x1="326.70000000000005" y1="163.13" x2="329.1" y2="163.13" stroke="#000" stroke-width="0.9"/>
<line x1="326.70000000000005" y1="174.30" x2="329.1" y2="174.30" stroke="#000" stroke-width="0.9"/>
<text x="326.3" y="142.7" font-size="5.3" font-weight="bold" fill="#000" text-anchor="end" >100%</text>
<text x="326.3" y="153.87" font-size="5.3" font-weight="bold" fill="#000" text-anchor="end" >10%</text>
<text x="326.3" y="165.03" font-size="5.3" font-weight="bold" fill="#000" text-anchor="end" >1%</text>
<text x="326.3" y="176.2" font-size="5.3" font-weight="bold" fill="#000" text-anchor="end" >0.1%</text>
<rect x="331.60" y="188.30" width="6.17" height="10.38" fill="#0a0a0a"/>
<rect x="332.50" y="189.20" width="4.37" height="8.58" fill="#8a8a8a"/>
<rect x="331.60" y="197.78" width="6.17" height="20.49" fill="#0a0a0a"/>
<rect x="332.50" y="198.68" width="4.37" height="18.69" fill="#fff"/>
<rect x="331.60" y="217.37" width="6.17" height="34.13" fill="#0a0a0a"/>
<rect x="332.50" y="218.27" width="4.37" height="32.33" fill="#353535"/>
<line x1="334.69" y1="251.5" x2="334.69" y2="254.1" stroke="#000" stroke-width="0.8"/>
<text transform="translate(337.19 255.10) rotate(-90) scale(0.9 1)" font-size="7" font-weight="bold" text-anchor="end">1</text>
<rect x="337.77" y="188.30" width="6.17" height="20.49" fill="#0a0a0a"/>
<rect x="338.67" y="189.20" width="4.37" height="18.69" fill="#8a8a8a"/>
<rect x="337.77" y="207.89" width="6.17" height="17.96" fill="#0a0a0a"/>
<rect x="338.67" y="208.79" width="4.37" height="16.16" fill="#fff"/>
<rect x="337.77" y="224.96" width="6.17" height="26.54" fill="#0a0a0a"/>
<rect x="338.67" y="225.86" width="4.37" height="24.74" fill="#353535"/>
<line x1="340.86" y1="251.5" x2="340.86" y2="254.1" stroke="#000" stroke-width="0.8"/>
<text transform="translate(343.36 255.10) rotate(-90) scale(0.9 1)" font-size="7" font-weight="bold" text-anchor="end">2</text>
<rect x="343.94" y="188.30" width="6.17" height="13.54" fill="#0a0a0a"/>
<rect x="344.84" y="189.20" width="4.37" height="11.74" fill="#8a8a8a"/>
<rect x="343.94" y="200.94" width="6.17" height="29.34" fill="#0a0a0a"/>
<rect x="344.84" y="201.84" width="4.37" height="27.54" fill="#fff"/>
<rect x="343.94" y="229.38" width="6.17" height="22.12" fill="#0a0a0a"/>
<rect x="344.84" y="230.28" width="4.37" height="20.32" fill="#353535"/>
<line x1="347.02" y1="251.5" x2="347.02" y2="254.1" stroke="#000" stroke-width="0.8"/>
<text transform="translate(349.52 255.10) rotate(-90) scale(0.9 1)" font-size="7" font-weight="bold" text-anchor="end">3</text>
<rect x="350.11" y="188.30" width="6.17" height="13.54" fill="#0a0a0a"/>
<rect x="351.01" y="189.20" width="4.37" height="11.74" fill="#8a8a8a"/>
<rect x="350.11" y="200.94" width="6.17" height="29.97" fill="#0a0a0a"/>
<rect x="351.01" y="201.84" width="4.37" height="28.17" fill="#fff"/>
<rect x="350.11" y="230.01" width="6.17" height="21.49" fill="#0a0a0a"/>
<rect x="351.01" y="230.91" width="4.37" height="19.69" fill="#353535"/>
<line x1="353.19" y1="251.5" x2="353.19" y2="254.1" stroke="#000" stroke-width="0.8"/>
<text transform="translate(355.69 255.10) rotate(-90) scale(0.9 1)" font-size="7" font-weight="bold" text-anchor="end">4</text>
<rect x="356.28" y="188.30" width="6.17" height="11.64" fill="#0a0a0a"/>
<rect x="357.18" y="189.20" width="4.37" height="9.84" fill="#8a8a8a"/>
<rect x="356.28" y="199.04" width="6.17" height="32.50" fill="#0a0a0a"/>
<rect x="357.18" y="199.94" width="4.37" height="30.70" fill="#fff"/>
<rect x="356.28" y="230.64" width="6.17" height="20.86" fill="#0a0a0a"/>
<rect x="357.18" y="231.54" width="4.37" height="19.06" fill="#353535"/>
<line x1="359.37" y1="251.5" x2="359.37" y2="254.1" stroke="#000" stroke-width="0.8"/>
<text transform="translate(361.87 255.10) rotate(-90) scale(0.9 1)" font-size="7" font-weight="bold" text-anchor="end">5</text>
<rect x="362.45" y="188.30" width="6.17" height="32.50" fill="#0a0a0a"/>
<rect x="363.35" y="189.20" width="4.37" height="30.70" fill="#8a8a8a"/>
<rect x="362.45" y="219.90" width="6.17" height="16.70" fill="#0a0a0a"/>
<rect x="363.35" y="220.80" width="4.37" height="14.90" fill="#fff"/>
<rect x="362.45" y="235.70" width="6.17" height="15.80" fill="#0a0a0a"/>
<rect x="363.35" y="236.60" width="4.37" height="14.00" fill="#353535"/>
<line x1="365.54" y1="251.5" x2="365.54" y2="254.1" stroke="#000" stroke-width="0.8"/>
<text transform="translate(368.04 255.10) rotate(-90) scale(0.9 1)" font-size="7" font-weight="bold" text-anchor="end">6</text>
<rect x="368.62" y="188.30" width="6.17" height="4.69" fill="#0a0a0a"/>
<rect x="369.52" y="189.20" width="4.37" height="2.89" fill="#8a8a8a"/>
<rect x="368.62" y="192.09" width="6.17" height="50.83" fill="#0a0a0a"/>
<rect x="369.52" y="192.99" width="4.37" height="49.03" fill="#fff"/>
<rect x="368.62" y="242.02" width="6.17" height="9.48" fill="#0a0a0a"/>
<rect x="369.52" y="242.92" width="4.37" height="7.68" fill="#353535"/>
<line x1="371.70" y1="251.5" x2="371.70" y2="254.1" stroke="#000" stroke-width="0.8"/>
<text transform="translate(374.20 255.10) rotate(-90) scale(0.9 1)" font-size="7" font-weight="bold" text-anchor="end">7</text>
<rect x="374.79" y="188.30" width="6.17" height="58.41" fill="#0a0a0a"/>
<rect x="375.69" y="189.20" width="4.37" height="56.61" fill="#8a8a8a"/>
<rect x="374.79" y="245.81" width="6.17" height="1.53" fill="#0a0a0a"/>
<rect x="374.79" y="246.44" width="6.17" height="5.06" fill="#0a0a0a"/>
<rect x="375.69" y="247.34" width="4.37" height="3.26" fill="#353535"/>
<line x1="377.88" y1="251.5" x2="377.88" y2="254.1" stroke="#000" stroke-width="0.8"/>
<text transform="translate(380.38 255.10) rotate(-90) scale(0.9 1)" font-size="7" font-weight="bold" text-anchor="end">8</text>
<rect x="380.96" y="188.30" width="6.17" height="60.94" fill="#0a0a0a"/>
<rect x="381.86" y="189.20" width="4.37" height="59.14" fill="#8a8a8a"/>
<rect x="380.96" y="248.34" width="6.17" height="1.53" fill="#0a0a0a"/>
<rect x="380.96" y="248.97" width="6.17" height="2.53" fill="#0a0a0a"/>
<rect x="381.86" y="249.87" width="4.37" height="0.73" fill="#353535"/>
<line x1="384.05" y1="251.5" x2="384.05" y2="254.1" stroke="#000" stroke-width="0.8"/>
<text transform="translate(386.55 255.10) rotate(-90) scale(0.9 1)" font-size="7" font-weight="bold" text-anchor="end">9</text>
<rect x="387.13" y="188.30" width="6.17" height="63.78" fill="#0a0a0a"/>
<rect x="388.03" y="189.20" width="4.37" height="61.98" fill="#8a8a8a"/>
<rect x="387.13" y="251.18" width="6.17" height="0.90" fill="#0a0a0a"/>
<rect x="387.13" y="251.18" width="6.17" height="0.32" fill="#0a0a0a"/>
<line x1="390.21" y1="251.5" x2="390.21" y2="254.1" stroke="#000" stroke-width="0.8"/>
<text transform="translate(392.71 255.10) rotate(-90) scale(0.9 1)" font-size="7" font-weight="bold" text-anchor="end">10</text>
<line x1="329.2" y1="185.3" x2="329.2" y2="252.3" stroke="#0a0a0a" stroke-width="1.3"/>
<line x1="328.59999999999997" y1="251.7" x2="396.1" y2="251.7" stroke="#0a0a0a" stroke-width="1.6"/>
<line x1="326.2" y1="188.30" x2="329.2" y2="188.30" stroke="#000" stroke-width="0.9"/>
<text x="325.9" y="190.2" font-size="5.3" font-weight="bold" fill="#000" text-anchor="end" >100%</text>
<line x1="326.2" y1="200.94" x2="329.2" y2="200.94" stroke="#000" stroke-width="0.9"/>
<text x="325.9" y="202.84" font-size="5.3" font-weight="bold" fill="#000" text-anchor="end" >80%</text>
<line x1="326.2" y1="213.58" x2="329.2" y2="213.58" stroke="#000" stroke-width="0.9"/>
<text x="325.9" y="215.48" font-size="5.3" font-weight="bold" fill="#000" text-anchor="end" >60%</text>
<line x1="326.2" y1="226.22" x2="329.2" y2="226.22" stroke="#000" stroke-width="0.9"/>
<text x="325.9" y="228.12" font-size="5.3" font-weight="bold" fill="#000" text-anchor="end" >40%</text>
<line x1="326.2" y1="238.86" x2="329.2" y2="238.86" stroke="#000" stroke-width="0.9"/>
<text x="325.9" y="240.76" font-size="5.3" font-weight="bold" fill="#000" text-anchor="end" >20%</text>
<line x1="326.2" y1="251.50" x2="329.2" y2="251.50" stroke="#000" stroke-width="0.9"/>
<text x="325.9" y="253.4" font-size="5.3" font-weight="bold" fill="#000" text-anchor="end" >0%</text>
<rect x="412.90" y="141.83" width="6.15" height="32.47" fill="#0a0a0a"/>
<rect x="413.55" y="142.48" width="4.85" height="31.17" fill="#353535"/>
<rect x="419.05" y="142.75" width="6.15" height="31.55" fill="#0a0a0a"/>
<rect x="419.70" y="143.40" width="4.85" height="30.25" fill="#353535"/>
<rect x="425.20" y="142.75" width="6.15" height="31.55" fill="#0a0a0a"/>
<rect x="425.85" y="143.40" width="4.85" height="30.25" fill="#353535"/>
<rect x="431.35" y="142.14" width="6.15" height="32.16" fill="#0a0a0a"/>
<rect x="432.00" y="142.79" width="4.85" height="30.86" fill="#353535"/>
<rect x="437.50" y="142.75" width="6.15" height="31.55" fill="#0a0a0a"/>
<rect x="438.15" y="143.40" width="4.85" height="30.25" fill="#353535"/>
<rect x="443.65" y="145.80" width="6.15" height="28.50" fill="#0a0a0a"/>
<rect x="444.30" y="146.45" width="4.85" height="27.20" fill="#353535"/>
<rect x="449.80" y="141.83" width="6.15" height="32.47" fill="#0a0a0a"/>
<rect x="450.45" y="142.48" width="4.85" height="31.17" fill="#353535"/>
<rect x="455.95" y="147.33" width="6.15" height="26.97" fill="#0a0a0a"/>
<rect x="456.60" y="147.98" width="4.85" height="25.67" fill="#353535"/>
<rect x="462.10" y="142.75" width="6.15" height="31.55" fill="#0a0a0a"/>
<rect x="462.75" y="143.40" width="4.85" height="30.25" fill="#353535"/>
<rect x="468.25" y="146.41" width="6.15" height="27.89" fill="#0a0a0a"/>
<rect x="468.90" y="147.06" width="4.85" height="26.59" fill="#353535"/>
<rect x="409.2" y="140.8" width="68.0" height="33.5" fill="none" stroke="#0a0a0a" stroke-width="1.2"/>
<line x1="406.8" y1="140.80" x2="409.2" y2="140.80" stroke="#000" stroke-width="0.9"/>
<line x1="406.8" y1="151.97" x2="409.2" y2="151.97" stroke="#000" stroke-width="0.9"/>
<line x1="406.8" y1="163.13" x2="409.2" y2="163.13" stroke="#000" stroke-width="0.9"/>
<line x1="406.8" y1="174.30" x2="409.2" y2="174.30" stroke="#000" stroke-width="0.9"/>
<line x1="407.9" y1="148.61" x2="409.2" y2="148.61" stroke="#000" stroke-width="0.45"/>
<line x1="407.9" y1="146.64" x2="409.2" y2="146.64" stroke="#000" stroke-width="0.45"/>
<line x1="407.9" y1="145.24" x2="409.2" y2="145.24" stroke="#000" stroke-width="0.45"/>
<line x1="407.9" y1="144.16" x2="409.2" y2="144.16" stroke="#000" stroke-width="0.45"/>
<line x1="407.9" y1="143.28" x2="409.2" y2="143.28" stroke="#000" stroke-width="0.45"/>
<line x1="407.9" y1="142.53" x2="409.2" y2="142.53" stroke="#000" stroke-width="0.45"/>
<line x1="407.9" y1="141.88" x2="409.2" y2="141.88" stroke="#000" stroke-width="0.45"/>
<line x1="407.9" y1="141.31" x2="409.2" y2="141.31" stroke="#000" stroke-width="0.45"/>
<line x1="407.9" y1="159.77" x2="409.2" y2="159.77" stroke="#000" stroke-width="0.45"/>
<line x1="407.9" y1="157.81" x2="409.2" y2="157.81" stroke="#000" stroke-width="0.45"/>
<line x1="407.9" y1="156.41" x2="409.2" y2="156.41" stroke="#000" stroke-width="0.45"/>
<line x1="407.9" y1="155.33" x2="409.2" y2="155.33" stroke="#000" stroke-width="0.45"/>
<line x1="407.9" y1="154.44" x2="409.2" y2="154.44" stroke="#000" stroke-width="0.45"/>
<line x1="407.9" y1="153.70" x2="409.2" y2="153.70" stroke="#000" stroke-width="0.45"/>
<line x1="407.9" y1="153.05" x2="409.2" y2="153.05" stroke="#000" stroke-width="0.45"/>
<line x1="407.9" y1="152.48" x2="409.2" y2="152.48" stroke="#000" stroke-width="0.45"/>
<line x1="407.9" y1="170.94" x2="409.2" y2="170.94" stroke="#000" stroke-width="0.45"/>
<line x1="407.9" y1="168.97" x2="409.2" y2="168.97" stroke="#000" stroke-width="0.45"/>
<line x1="407.9" y1="167.58" x2="409.2" y2="167.58" stroke="#000" stroke-width="0.45"/>
<line x1="407.9" y1="166.49" x2="409.2" y2="166.49" stroke="#000" stroke-width="0.45"/>
<line x1="407.9" y1="165.61" x2="409.2" y2="165.61" stroke="#000" stroke-width="0.45"/>
<line x1="407.9" y1="164.86" x2="409.2" y2="164.86" stroke="#000" stroke-width="0.45"/>
<line x1="407.9" y1="164.22" x2="409.2" y2="164.22" stroke="#000" stroke-width="0.45"/>
<line x1="407.9" y1="163.64" x2="409.2" y2="163.64" stroke="#000" stroke-width="0.45"/>
<rect x="412.90" y="188.30" width="6.15" height="0.90" fill="#0a0a0a"/>
<rect x="412.90" y="188.30" width="6.15" height="0.90" fill="#0a0a0a"/>
<rect x="412.90" y="188.30" width="6.15" height="63.20" fill="#0a0a0a"/>
<rect x="413.80" y="189.20" width="4.35" height="61.40" fill="#353535"/>
<line x1="415.97" y1="251.5" x2="415.97" y2="254.1" stroke="#000" stroke-width="0.8"/>
<text transform="translate(418.47 255.10) rotate(-90) scale(0.9 1)" font-size="7" font-weight="bold" text-anchor="end">1</text>
<rect x="419.05" y="188.30" width="6.15" height="9.75" fill="#0a0a0a"/>
<rect x="419.95" y="189.20" width="4.35" height="7.95" fill="#8a8a8a"/>
<rect x="419.05" y="197.15" width="6.15" height="4.06" fill="#0a0a0a"/>
<rect x="419.95" y="198.05" width="4.35" height="2.26" fill="#fff"/>
<rect x="419.05" y="200.31" width="6.15" height="51.19" fill="#0a0a0a"/>
<rect x="419.95" y="201.21" width="4.35" height="49.39" fill="#353535"/>
<line x1="422.12" y1="251.5" x2="422.12" y2="254.1" stroke="#000" stroke-width="0.8"/>
<text transform="translate(424.62 255.10) rotate(-90) scale(0.9 1)" font-size="7" font-weight="bold" text-anchor="end">2</text>
<rect x="425.20" y="188.30" width="6.15" height="19.86" fill="#0a0a0a"/>
<rect x="426.10" y="189.20" width="4.35" height="18.06" fill="#8a8a8a"/>
<rect x="425.20" y="207.26" width="6.15" height="11.64" fill="#0a0a0a"/>
<rect x="426.10" y="208.16" width="4.35" height="9.84" fill="#fff"/>
<rect x="425.20" y="218.00" width="6.15" height="33.50" fill="#0a0a0a"/>
<rect x="426.10" y="218.90" width="4.35" height="31.70" fill="#353535"/>
<line x1="428.27" y1="251.5" x2="428.27" y2="254.1" stroke="#000" stroke-width="0.8"/>
<text transform="translate(430.77 255.10) rotate(-90) scale(0.9 1)" font-size="7" font-weight="bold" text-anchor="end">3</text>
<rect x="431.35" y="188.30" width="6.15" height="15.44" fill="#0a0a0a"/>
<rect x="432.25" y="189.20" width="4.35" height="13.64" fill="#8a8a8a"/>
<rect x="431.35" y="202.84" width="6.15" height="15.44" fill="#0a0a0a"/>
<rect x="432.25" y="203.74" width="4.35" height="13.64" fill="#fff"/>
<rect x="431.35" y="217.37" width="6.15" height="34.13" fill="#0a0a0a"/>
<rect x="432.25" y="218.27" width="4.35" height="32.33" fill="#353535"/>
<line x1="434.42" y1="251.5" x2="434.42" y2="254.1" stroke="#000" stroke-width="0.8"/>
<text transform="translate(436.92 255.10) rotate(-90) scale(0.9 1)" font-size="7" font-weight="bold" text-anchor="end">4</text>
<rect x="437.50" y="188.30" width="6.15" height="18.60" fill="#0a0a0a"/>
<rect x="438.40" y="189.20" width="4.35" height="16.80" fill="#8a8a8a"/>
<rect x="437.50" y="206.00" width="6.15" height="14.49" fill="#0a0a0a"/>
<rect x="438.40" y="206.90" width="4.35" height="12.69" fill="#fff"/>
<rect x="437.50" y="219.58" width="6.15" height="31.92" fill="#0a0a0a"/>
<rect x="438.40" y="220.48" width="4.35" height="30.12" fill="#353535"/>
<line x1="440.57" y1="251.5" x2="440.57" y2="254.1" stroke="#000" stroke-width="0.8"/>
<text transform="translate(443.07 255.10) rotate(-90) scale(0.9 1)" font-size="7" font-weight="bold" text-anchor="end">5</text>
<rect x="443.65" y="188.30" width="6.15" height="25.55" fill="#0a0a0a"/>
<rect x="444.55" y="189.20" width="4.35" height="23.75" fill="#8a8a8a"/>
<rect x="443.65" y="212.95" width="6.15" height="19.23" fill="#0a0a0a"/>
<rect x="444.55" y="213.85" width="4.35" height="17.43" fill="#fff"/>
<rect x="443.65" y="231.28" width="6.15" height="20.22" fill="#0a0a0a"/>
<rect x="444.55" y="232.18" width="4.35" height="18.42" fill="#353535"/>
<line x1="446.72" y1="251.5" x2="446.72" y2="254.1" stroke="#000" stroke-width="0.8"/>
<text transform="translate(449.22 255.10) rotate(-90) scale(0.9 1)" font-size="7" font-weight="bold" text-anchor="end">6</text>
<rect x="449.80" y="188.30" width="6.15" height="27.13" fill="#0a0a0a"/>
<rect x="450.70" y="189.20" width="4.35" height="25.33" fill="#8a8a8a"/>
<rect x="449.80" y="214.53" width="6.15" height="18.28" fill="#0a0a0a"/>
<rect x="450.70" y="215.43" width="4.35" height="16.48" fill="#fff"/>
<rect x="449.80" y="231.91" width="6.15" height="19.59" fill="#0a0a0a"/>
<rect x="450.70" y="232.81" width="4.35" height="17.79" fill="#353535"/>
<line x1="452.87" y1="251.5" x2="452.87" y2="254.1" stroke="#000" stroke-width="0.8"/>
<text transform="translate(455.37 255.10) rotate(-90) scale(0.9 1)" font-size="7" font-weight="bold" text-anchor="end">7</text>
<rect x="455.95" y="188.30" width="6.15" height="32.18" fill="#0a0a0a"/>
<rect x="456.85" y="189.20" width="4.35" height="30.38" fill="#8a8a8a"/>
<rect x="455.95" y="219.58" width="6.15" height="21.06" fill="#0a0a0a"/>
<rect x="456.85" y="220.48" width="4.35" height="19.26" fill="#fff"/>
<rect x="455.95" y="239.74" width="6.15" height="11.76" fill="#0a0a0a"/>
<rect x="456.85" y="240.64" width="4.35" height="9.96" fill="#353535"/>
<line x1="459.02" y1="251.5" x2="459.02" y2="254.1" stroke="#000" stroke-width="0.8"/>
<text transform="translate(461.52 255.10) rotate(-90) scale(0.9 1)" font-size="7" font-weight="bold" text-anchor="end">8</text>
<rect x="462.10" y="188.30" width="6.15" height="58.10" fill="#0a0a0a"/>
<rect x="463.00" y="189.20" width="4.35" height="56.30" fill="#8a8a8a"/>
<rect x="462.10" y="245.50" width="6.15" height="4.38" fill="#0a0a0a"/>
<rect x="463.00" y="246.40" width="4.35" height="2.58" fill="#fff"/>
<rect x="462.10" y="248.97" width="6.15" height="2.53" fill="#0a0a0a"/>
<rect x="463.00" y="249.87" width="4.35" height="0.73" fill="#353535"/>
<line x1="465.17" y1="251.5" x2="465.17" y2="254.1" stroke="#000" stroke-width="0.8"/>
<text transform="translate(467.67 255.10) rotate(-90) scale(0.9 1)" font-size="7" font-weight="bold" text-anchor="end">9</text>
<rect x="468.25" y="188.30" width="6.15" height="48.93" fill="#0a0a0a"/>
<rect x="469.15" y="189.20" width="4.35" height="47.13" fill="#8a8a8a"/>
<rect x="468.25" y="236.33" width="6.15" height="15.44" fill="#0a0a0a"/>
<rect x="469.15" y="237.23" width="4.35" height="13.64" fill="#fff"/>
<rect x="468.25" y="250.87" width="6.15" height="0.63" fill="#0a0a0a"/>
<line x1="471.32" y1="251.5" x2="471.32" y2="254.1" stroke="#000" stroke-width="0.8"/>
<text transform="translate(473.82 255.10) rotate(-90) scale(0.9 1)" font-size="7" font-weight="bold" text-anchor="end">10</text>
<line x1="409.8" y1="185.3" x2="409.8" y2="252.3" stroke="#0a0a0a" stroke-width="1.3"/>
<line x1="409.2" y1="251.7" x2="477.2" y2="251.7" stroke="#0a0a0a" stroke-width="1.6"/>
<line x1="406.8" y1="188.30" x2="409.8" y2="188.30" stroke="#000" stroke-width="0.9"/>
<line x1="406.8" y1="200.94" x2="409.8" y2="200.94" stroke="#000" stroke-width="0.9"/>
<line x1="406.8" y1="213.58" x2="409.8" y2="213.58" stroke="#000" stroke-width="0.9"/>
<line x1="406.8" y1="226.22" x2="409.8" y2="226.22" stroke="#000" stroke-width="0.9"/>
<line x1="406.8" y1="238.86" x2="409.8" y2="238.86" stroke="#000" stroke-width="0.9"/>
<line x1="406.8" y1="251.50" x2="409.8" y2="251.50" stroke="#000" stroke-width="0.9"/>
<rect x="478.4" y="189.9" width="9.6" height="5.5" fill="#0a0a0a"/>
<rect x="479.6" y="191.0" width="7.2" height="3.3" fill="#8a8a8a"/>
<text x="490.6" y="195.7" font-size="8.2" font-weight="normal" fill="#000" text-anchor="start" stroke="#000" stroke-width="0.15">T</text>
<rect x="478.4" y="198.2" width="9.6" height="5.5" fill="#0a0a0a"/>
<rect x="479.6" y="199.29999999999998" width="7.2" height="3.3" fill="#fff"/>
<text x="490.6" y="204.0" font-size="8.2" font-weight="normal" fill="#000" text-anchor="start" stroke="#000" stroke-width="0.15">B</text>
<rect x="478.4" y="206.3" width="9.6" height="5.5" fill="#0a0a0a"/>
<rect x="479.6" y="207.4" width="7.2" height="3.3" fill="#353535"/>
<text x="490.6" y="212.1" font-size="8.2" font-weight="normal" fill="#000" text-anchor="start" textLength="28.6" lengthAdjust="spacingAndGlyphs" stroke="#000" stroke-width="0.15">Myeloid</text>
<defs>
<filter id="stip" x="-5%" y="-5%" width="110%" height="110%" color-interpolation-filters="sRGB">
  <feTurbulence type="fractalNoise" baseFrequency="1.3" numOctaves="1" seed="7" result="n"/>
  <feColorMatrix in="n" type="matrix" values="0 0 0 0 0  0 0 0 0 0  0 0 0 0 0  1.8 0 0 0 -0.4" result="na"/>
  <feComposite in="SourceGraphic" in2="na" operator="arithmetic" k1="0" k2="1" k3="1" k4="-1" result="c"/>
  <feComponentTransfer in="c"><feFuncA type="linear" slope="2.6" intercept="0"/></feComponentTransfer>
  <feGaussianBlur stdDeviation="0.42"/>
</filter>
<filter id="soft" x="-10%" y="-10%" width="120%" height="120%"><feGaussianBlur stdDeviation="0.45"/></filter>
<filter id="soft2" x="-10%" y="-10%" width="120%" height="120%"><feGaussianBlur stdDeviation="0.8"/></filter>
<linearGradient id="g1" x1="0" y1="0" x2="1" y2="0">
  <stop offset="0" stop-color="#000" stop-opacity="1"/>
  <stop offset="0.3" stop-color="#000" stop-opacity="0.95"/>
  <stop offset="0.5" stop-color="#000" stop-opacity="0.72"/>
  <stop offset="0.75" stop-color="#000" stop-opacity="0.52"/>
  <stop offset="1" stop-color="#000" stop-opacity="0.3"/>
</linearGradient>
<linearGradient id="g1b" x1="0" y1="0" x2="1" y2="0">
  <stop offset="0" stop-color="#000" stop-opacity="0.93"/>
  <stop offset="0.4" stop-color="#000" stop-opacity="0.8"/>
  <stop offset="0.7" stop-color="#000" stop-opacity="0.38"/>
  <stop offset="1" stop-color="#000" stop-opacity="0.04"/>
</linearGradient>
<radialGradient id="g2" cx="0.32" cy="0.28" r="0.75">
  <stop offset="0" stop-color="#000" stop-opacity="0.42"/>
  <stop offset="0.5" stop-color="#000" stop-opacity="0.36"/>
  <stop offset="1" stop-color="#000" stop-opacity="0.26"/>
</radialGradient>
<linearGradient id="mg" x1="0" y1="0" x2="0" y2="1">
  <stop offset="0" stop-color="#060606"/>
  <stop offset="0.5" stop-color="#1c1c1c"/>
  <stop offset="0.7" stop-color="#585858"/>
  <stop offset="0.86" stop-color="#9a9a9a"/>
  <stop offset="1" stop-color="#4a4a4a"/>
</linearGradient>
<clipPath id="cp1"><rect x="28.6" y="19" width="72" height="52.8"/></clipPath>
<g id="mouse">
  <!-- tail -->
  <path d="M0.2,13.7 C4,14 9,13.3 15.6,12.1" fill="none" stroke="#8a8a8a" stroke-width="0.8" stroke-linecap="round"/>
  <!-- body -->
  <path d="M15,12.3 C16.2,9.4 18.4,5.6 22,2.9 C24.6,1 27.6,0.1 30.4,0.2 C33.4,0.3 36,1.2 38.4,2.2 C40,2.8 42,3.3 43.6,3.2 C44.3,2.9 44.6,2 44.9,1.2 C45.2,0.5 45.8,0.5 45.9,1.3 C46,2.4 46.1,3.6 46.8,4.9 C48,7.2 49,9.6 49.7,11.8 C50,12.7 49.6,13.4 48.6,13.7 C47.2,14 46,14.2 44.6,14.8 C43.6,15.4 42,15.6 40.6,15.3 L35,15.1 C31,15.3 27,15.2 24,15.5 C21.4,15.7 19,15.4 17.4,14.5 C16,13.8 15.2,13.2 15,12.3 Z" fill="url(#mg)"/>
  <!-- belly highlight -->
  <ellipse cx="27.5" cy="12.6" rx="8.5" ry="2.1" fill="#dcdcdc" opacity="0.7" filter="url(#soft2)"/>
  <path d="M21.5,13.6 C26,12 33,12.1 37.5,13.5 L36.5,14.7 L23,14.8 Z" fill="#f6f6f6" opacity="0.95" filter="url(#soft)"/>
  <!-- flank sheen -->
  <path d="M20,11.6 C24,9.4 31,9 37,10.4" fill="none" stroke="#777" stroke-width="1.4" opacity="0.55" filter="url(#soft2)"/>
  <!-- ear / shoulder light patch -->
  <ellipse cx="40.8" cy="5.6" rx="1.6" ry="3.3" fill="#b4b4b4" transform="rotate(-6 40.8 5.6)" filter="url(#soft)"/>
  <path d="M42.6,3.6 C43.6,7 44.4,10 44,13.6 L49,13 L46.4,5 Z" fill="#000" opacity="0.75" filter="url(#soft)"/>
  <!-- face -->
  <path d="M44,7 C45.6,8.4 47.4,10.4 48.6,12.6" fill="none" stroke="#000" stroke-width="1.4"/>
  <path d="M45.6,12.6 L48.8,12.4" fill="none" stroke="#555" stroke-width="0.6"/>
</g>
<g id="rad">
  <circle r="7.1" fill="#e2e2e2" stroke="#111" stroke-width="1.35"/>
  <g fill="#111">
    <path d="M0,0 L5.7,0 A5.7,5.7 0 0 0 2.85,-4.94 Z" transform="rotate(0)"/>
    <path d="M0,0 L5.7,0 A5.7,5.7 0 0 0 2.85,-4.94 Z" transform="rotate(120)"/>
    <path d="M0,0 L5.7,0 A5.7,5.7 0 0 0 2.85,-4.94 Z" transform="rotate(240)"/>
  </g>
  <circle r="1.7" fill="#e6e6e6"/>
  <circle r="1.15" fill="#111"/>
</g>
</defs>

<!-- ============ Plot 1 : ckit / sca1 ============ -->
<g>
  <!-- gray stipple under top band (left) -->
  <path d="M28.4,23 C40,21.4 54,20.6 64,20.6 L65,32 C60,33.6 56,35 52,35 C46,34 40,30.6 34,30 L28.4,30.4 Z" fill="#000" opacity="0.24" filter="url(#stip)"/>
  <path d="M52,30 C57,29 62,29.6 66,31.6 L66,34 C63,33.4 61,34 59.6,36 C57,35.6 54,33.6 52,30 Z" fill="#000" opacity="0.5" filter="url(#stip)"/>
  <!-- contour lines (left) -->
  <g fill="none" stroke="#6e6e6e" stroke-width="0.45">
    <path d="M30,24.5 C40,22.5 55,22 66,24.5 C60,28 50,30 42,29.5 C36,29 31,27.5 30,24.5 Z"/>
    <path d="M33,25 C42,23.6 52,23.6 60,25 C55,27.5 47,28.6 41,28 C37,27.6 34,26.5 33,25 Z"/>
    <path d="M38,25.4 C44,24.6 50,24.7 55,25.6 C51,27 45,27.5 41,27 Z"/>
  </g>
  <g fill="none" stroke="#707070" stroke-width="0.42" clip-path="url(#cp1)">
    <path d="M51.8,53.0 Q51.1,56.5 51.2,59.7 Q51.4,62.8 50.0,65.8 Q48.5,68.7 45.9,70.1 Q43.3,71.5 40.5,71.3 Q37.7,71.2 35.8,68.9 Q33.8,66.6 32.1,64.5 Q30.4,62.4 28.5,59.4 Q26.6,56.5 27.7,53.1 Q28.9,49.7 31.3,48.0 Q33.7,46.2 35.8,44.4 Q37.9,42.7 40.4,43.3 Q42.9,43.9 45.8,43.9 Q48.8,43.9 50.7,46.7 Q52.5,49.5 51.8,53.0 Z"/>
    <path d="M50.1,54.4 Q51.4,56.8 51.1,59.8 Q50.7,62.8 49.0,64.8 Q47.2,66.8 45.1,67.7 Q42.9,68.6 40.9,68.1 Q38.8,67.7 36.6,67.2 Q34.5,66.7 32.4,64.9 Q30.3,63.1 31.2,60.0 Q32.0,56.8 32.4,54.4 Q32.8,52.0 33.6,49.3 Q34.3,46.7 36.5,45.8 Q38.6,44.9 40.9,44.1 Q43.3,43.3 45.1,45.2 Q47.0,47.1 47.9,49.5 Q48.8,52.0 50.1,54.4 Z"/>
    <path d="M49.0,54.8 Q49.7,57.1 49.3,59.6 Q48.9,62.0 47.0,62.8 Q45.1,63.7 44.0,65.5 Q42.9,67.4 41.0,68.1 Q39.1,68.7 37.5,67.1 Q35.9,65.5 34.8,63.7 Q33.6,61.8 33.7,59.5 Q33.8,57.1 34.2,55.0 Q34.5,53.0 35.0,50.4 Q35.4,47.9 37.4,47.5 Q39.3,47.1 41.0,47.9 Q42.6,48.7 44.3,48.9 Q46.0,49.1 47.2,50.8 Q48.3,52.6 49.0,54.8 Z"/>
    <path d="M46.9,55.6 Q46.9,57.4 47.1,59.3 Q47.3,61.3 46.5,62.9 Q45.6,64.6 44.1,64.4 Q42.5,64.1 41.3,64.6 Q40.1,65.1 38.8,64.6 Q37.4,64.2 36.6,62.6 Q35.8,61.1 35.5,59.3 Q35.2,57.4 35.8,55.7 Q36.3,54.1 37.3,53.0 Q38.2,51.9 39.0,49.9 Q39.8,48.0 41.3,48.5 Q42.8,48.9 43.8,50.3 Q44.7,51.7 45.8,52.7 Q46.8,53.8 46.9,55.6 Z"/>
    <path d="M46.0,56.2 Q45.8,57.7 45.4,58.8 Q45.0,60.0 44.6,61.1 Q44.2,62.2 43.4,62.8 Q42.6,63.5 41.7,63.7 Q40.7,64.0 39.7,63.5 Q38.8,63.0 38.6,61.5 Q38.4,60.0 37.9,58.9 Q37.5,57.7 37.6,56.3 Q37.7,54.9 38.4,54.0 Q39.1,53.0 39.9,52.2 Q40.7,51.5 41.6,51.9 Q42.6,52.3 43.3,53.0 Q44.0,53.6 45.1,54.1 Q46.2,54.6 46.0,56.2 Z"/>
    <path d="M44.0,57.3 Q43.9,58.0 44.2,58.9 Q44.4,59.8 44.0,60.3 Q43.5,60.9 43.0,61.2 Q42.5,61.5 42.0,61.5 Q41.5,61.5 41.1,61.0 Q40.6,60.6 40.2,60.1 Q39.8,59.6 39.4,58.8 Q39.1,58.0 39.6,57.3 Q40.0,56.6 40.3,56.0 Q40.6,55.4 41.0,55.0 Q41.5,54.6 42.0,54.6 Q42.5,54.6 43.1,54.8 Q43.6,54.9 43.8,55.7 Q44.0,56.6 44.0,57.3 Z"/>
    <path d="M51.4,36.6 Q51.2,37.5 51.2,38.5 Q51.2,39.4 49.9,40.2 Q48.6,41.0 46.4,41.4 Q44.2,41.9 41.6,41.2 Q39.0,40.6 37.8,39.5 Q36.6,38.5 33.9,37.9 Q31.2,37.2 30.3,36.1 Q29.4,34.9 31.0,34.1 Q32.6,33.3 34.1,32.6 Q35.6,32.0 38.0,32.3 Q40.5,32.6 42.8,32.3 Q45.1,32.1 47.7,32.6 Q50.4,33.2 51.0,34.4 Q51.5,35.7 51.4,36.6 Z"/>
    <path d="M49.8,36.7 Q50.8,37.4 50.7,38.2 Q50.6,38.9 49.1,39.3 Q47.7,39.7 45.9,39.9 Q44.2,40.2 42.5,39.5 Q40.7,38.7 39.2,38.4 Q37.7,38.0 35.7,37.5 Q33.7,36.9 33.7,36.1 Q33.6,35.3 34.6,34.8 Q35.7,34.3 36.7,33.8 Q37.8,33.4 39.4,33.3 Q41.1,33.2 43.1,33.1 Q45.2,33.0 47.1,33.6 Q48.9,34.2 48.8,35.1 Q48.7,36.0 49.8,36.7 Z"/>
    <path d="M48.5,36.5 Q47.9,37.0 47.6,37.3 Q47.3,37.7 46.7,37.9 Q46.0,38.2 45.0,38.2 Q43.9,38.3 42.6,38.3 Q41.3,38.4 40.4,37.9 Q39.5,37.5 39.1,37.0 Q38.7,36.6 37.9,36.1 Q37.1,35.7 37.5,35.3 Q38.0,34.9 38.9,34.7 Q39.8,34.5 40.9,34.5 Q42.1,34.5 43.1,34.8 Q44.1,35.1 45.5,35.1 Q46.8,35.2 48.0,35.7 Q49.1,36.1 48.5,36.5 Z"/>
    <path d="M56.6,52.1 Q56.3,55.3 55.9,58.2 Q55.5,61.2 54.7,62.7 Q53.9,64.3 53.1,65.7 Q52.4,67.1 51.4,68.6 Q50.4,70.1 49.9,67.7 Q49.5,65.3 49.5,62.4 Q49.5,59.5 49.3,57.1 Q49.0,54.7 49.4,51.9 Q49.8,49.1 50.4,46.2 Q51.0,43.3 51.9,42.5 Q52.8,41.7 53.5,43.1 Q54.1,44.5 54.9,44.7 Q55.7,44.9 56.3,46.9 Q56.8,48.8 56.6,52.1 Z"/>
    <path d="M54.8,52.2 Q54.7,54.2 54.5,56.3 Q54.4,58.4 54.0,60.3 Q53.5,62.1 53.0,61.9 Q52.4,61.7 52.0,61.8 Q51.5,62.0 50.9,62.1 Q50.3,62.2 50.3,60.0 Q50.3,57.7 50.3,55.8 Q50.3,53.8 50.7,52.0 Q51.0,50.1 51.4,48.9 Q51.9,47.6 52.4,45.8 Q52.8,43.9 53.4,44.0 Q54.0,44.0 54.1,45.9 Q54.3,47.8 54.6,49.0 Q54.9,50.3 54.8,52.2 Z"/>
  </g>
  <!-- dense black cloud -->
  <path d="M60.4,35 C59.2,36.4 60.6,37.4 59.6,38.8 C61.4,39.8 62.4,41.4 62.2,43.6 C63.6,45 63.4,47.4 62,49 C61.4,51 59.6,52.4 58.8,54.6 C57.6,56.6 57.8,58.8 57,61 C56,64 56.2,67 55.4,69.6 L55.2,72 L100.3,72 L100.3,30 C96,33.5 93,35.2 90,35 L66,33.2 C63.5,33 61.8,33.6 60.4,35 Z" fill="url(#g1)" filter="url(#stip)"/>
  <path d="M60.8,35.6 C59.8,36.8 61,37.6 60.2,39 C62,40 63,41.6 62.8,43.8 C64.2,45.2 64,47.4 62.6,49.2 C62,51.2 60.2,52.6 59.4,54.8 C58.2,56.8 58.4,59 57.6,61.2 C56.6,64 56.8,67 56,69.6 L55.8,71.8 L93,71.8 L93,36.4 L66,33.8 C63.6,33.5 62,34 60.8,35.6 Z" fill="url(#g1b)" filter="url(#soft)"/>
  <!-- top dark band -->
  <path d="M28,22.8 C38,21.2 52,20.4 62,20.6 C64,20.7 66,21 68,21.6" fill="none" stroke="#111" stroke-width="1.5" filter="url(#soft)"/>
  <path d="M28,24 C40,22 54,21 64,21.2" fill="none" stroke="#555" stroke-width="0.8" filter="url(#soft)"/>
  <!-- tongue contours inside LSK gate -->
  <path d="M64,21.6 C72,21.7 81,22.3 86.6,23.4 C90.6,24.4 92,26.4 91.6,28.6 C91,31.6 88,32.8 83.6,32.6 C77,32.3 70,31.6 64.5,30.8 Z" fill="#000" opacity="0.27" filter="url(#stip)"/>
  <path d="M67,25.2 C74,25 81,25.4 85.6,26.4 C87.6,27.2 87.4,28.6 85,29.2 C79.6,29.4 73,28.8 67,28 Z" fill="#fff" opacity="0.7" filter="url(#soft)"/>
  <g fill="none" filter="url(#soft)">
    <path d="M63,21.5 C72,21.7 81,22.3 86.6,23.4 C90.6,24.4 92,26.4 91.6,28.6 C91,31.6 88,32.8 83.6,32.6 C77,32.3 70,31.6 64.5,30.8" stroke="#1a1a1a" stroke-width="1.5"/>
    <path d="M66,23.8 C73,23.8 80.6,24.3 85.6,25.3 C88.8,26.1 89.6,27.6 89,29 C88,30.8 84.4,31 80.4,30.7 C75,30.3 70,29.7 66,28.9" stroke="#6a6a6a" stroke-width="0.7"/>
    <path d="M69,25.8 C75,25.7 81.4,26.2 85.8,27.1 C87,27.8 86.2,28.8 83.6,28.9 C79,28.8 74,28.3 69.5,27.5" stroke="#8a8a8a" stroke-width="0.6"/>
  </g>
  <!-- frame -->
  <rect x="27.6" y="0.45" width="73.1" height="71.95" fill="none" stroke="#222" stroke-width="0.9"/>
  <line x1="28" y1="19" x2="28" y2="72.6" stroke="#111" stroke-width="1.7"/>
  <line x1="27.2" y1="72.3" x2="101" y2="72.3" stroke="#111" stroke-width="1.5"/>
  <line x1="27.2" y1="73.4" x2="101" y2="73.4" stroke="#333" stroke-width="0.9" stroke-dasharray="1.1 1.5"/>
  <line x1="26.6" y1="6" x2="26.6" y2="72" stroke="#444" stroke-width="0.8" stroke-dasharray="0.9 6.5"/>
  <!-- LSK gate -->
  <path d="M65.3,19.5 L93.2,22.1 L93.2,35 L65.3,32.8 Z" fill="none" stroke="#111" stroke-width="1.15"/>
  <text x="72.6" y="15.2" font-size="7.4" textLength="13.2" lengthAdjust="spacingAndGlyphs" stroke="#000" stroke-width="0.22">LSK</text>
  <!-- arrow to plot2 -->
  <line x1="93.2" y1="26.8" x2="109" y2="26.8" stroke="#111" stroke-width="1.6"/>
  <path d="M107.6,22.4 L119.2,26.8 L107.6,31.2 Z" fill="#111"/>
  <!-- axis arrows -->
  <path d="M16.9,69 L16.9,83.1 L31,83.1" fill="none" stroke="#111" stroke-width="1.5"/>
  <path d="M13.8,71.4 L16.9,65.6 L20,71.4 Z" fill="#111"/>
  <path d="M29.4,80 L35.4,83.1 L29.4,86.2 Z" fill="#111"/>
  <text x="40.5" y="85.8" font-size="8.8" textLength="17.2" lengthAdjust="spacingAndGlyphs" stroke="#000" stroke-width="0.22">sca1</text>
  <text x="66.9" y="85.8" font-size="8.1" textLength="35.4" lengthAdjust="spacingAndGlyphs" stroke="#000" stroke-width="0.22">gated: Lin-</text>
  <text transform="translate(20.5 50.5) rotate(-90)" font-size="8" text-anchor="middle" textLength="12.6" lengthAdjust="spacingAndGlyphs" stroke="#000" stroke-width="0.22">ckit</text>
</g>

<!-- ============ Plot 2 : CD48 / CD150 ============ -->
<g>
  <!-- scattered dots -->
  <rect x="123.5" y="19.5" width="63" height="52.5" fill="url(#g2)" filter="url(#stip)"/>
  <!-- main cluster -->
  <path d="M125,25 C130,22.5 140,20.6 147,20.6 C153,21 158,23.4 161,28.6 C163,33 162.6,40 159,47.4 C154,46.4 151,44.4 148,42 C145,39.6 141,36.6 136,34.2 C132,32.4 128,31 125,30.2 Z" fill="#000" opacity="0.4" filter="url(#stip)"/>
  <ellipse cx="136" cy="27" rx="7" ry="2.4" fill="#fff" opacity="0.5" transform="rotate(12 136 27)" filter="url(#soft2)"/>
  <path d="M161,27 C166,26 172,27 175.6,30 C177,33 176,37 173,39 L161,40 Z" fill="#000" opacity="0.42" filter="url(#stip)"/>
  <path d="M127.7,23.8 C134,21.6 141,20.4 146.6,20.5 C151,20.6 155,22 157.6,24 C159.6,25.6 160.6,27.4 161.2,29.4" fill="none" stroke="#161616" stroke-width="1.35" filter="url(#soft)"/>
  <g fill="none" filter="url(#soft)">
    <path d="M130,26.6 C137,24.2 147,23.6 152.6,25.4 C156.6,27.6 158.6,33 157,39.6 C152,40.2 146,37 141,33.6 C137,31 132,29 130,26.6 Z" stroke="#444" stroke-width="0.7"/>
    <path d="M139,27.6 C145,26.2 151,27 153.4,30 C154.6,33 154,36 152,37 C148,36 142,31.6 139,27.6 Z" stroke="#555" stroke-width="0.6"/>
    <path d="M146,29.4 C149,29 151.6,30.4 152,32.4 C152,34 150.6,34.6 149,34 C147.4,33 146,31 146,29.4 Z" stroke="#666" stroke-width="0.5"/>
  </g>
  <!-- denser stipple band under channel -->
  <path d="M124.4,36 C131,38.4 138.4,42.8 145.6,48 C150.6,51.4 156.6,53.2 163,53.4 C170,53.4 176,52 179,48.6" fill="none" stroke="#000" stroke-opacity="0.42" stroke-width="6" filter="url(#stip)"/>
  <!-- white channel + contours -->
  <path d="M124.4,31.4 C132,33.6 140,38 147.4,43.4 C152,46.6 157,48.4 163,48.8 C168,49 173,48.6 175.4,46.6 C177.4,44.6 177.4,42 175.6,40" fill="none" stroke="#fff" stroke-width="2.3" filter="url(#soft)"/>
  <g fill="none" filter="url(#soft)">
    <path d="M124.4,30.2 C132,32.4 140.6,36.8 148,42.2 C152.6,45.4 157.4,47.2 163,47.6 C168,47.8 172,47.4 174.2,45.8 C175.8,44.2 175.8,42.4 174.4,40.8" stroke="#3a3a3a" stroke-width="0.6"/>
    <path d="M124.4,32.8 C131.6,35 139.4,39.4 146.8,44.8 C151.4,48 156.6,49.8 163,50.2 C168.6,50.4 174,49.8 176.8,47.4 C179,45 179,41.6 177,39.2" stroke="#4a4a4a" stroke-width="0.6"/>
    <path d="M124.4,35.6 C131,38 138.4,42.4 145.6,47.6 C150.6,51 156.6,52.6 163,52.8" stroke="#9a9a9a" stroke-width="0.5"/>
  </g>
  <!-- gate blob -->
  <ellipse cx="169.6" cy="42.2" rx="4.6" ry="3.8" fill="#000" opacity="0.5" filter="url(#stip)"/>
  <ellipse cx="169.4" cy="42.4" rx="3" ry="2.4" fill="none" stroke="#555" stroke-width="0.5" filter="url(#soft)"/>
  <!-- frame -->
  <rect x="122.5" y="0.45" width="72.1" height="71.95" fill="none" stroke="#222" stroke-width="0.9"/>
  <line x1="123.2" y1="20.5" x2="123.2" y2="72.6" stroke="#111" stroke-width="2.0"/>
  <line x1="122.2" y1="72.3" x2="195" y2="72.3" stroke="#111" stroke-width="1.5"/>
  <line x1="122.2" y1="73.4" x2="195" y2="73.4" stroke="#333" stroke-width="0.9" stroke-dasharray="1.1 1.5"/>
  <line x1="121.6" y1="6" x2="121.6" y2="72" stroke="#444" stroke-width="0.8" stroke-dasharray="0.9 6.5"/>
  <!-- LT-HSC gate -->
  <rect x="161.6" y="35.6" width="21.2" height="37" fill="none" stroke="#111" stroke-width="1.0"/>
  <rect x="169.2" y="63.8" width="24.8" height="7.8" fill="#fff"/>
  <text x="169.8" y="70.6" font-size="7" font-weight="bold" textLength="23.6" lengthAdjust="spacingAndGlyphs">LT-HSC</text>
  <!-- arrow to plot3 -->
  <line x1="182.8" y1="52" x2="199" y2="52" stroke="#111" stroke-width="1.6"/>
  <path d="M197.4,47.6 L209,52 L197.4,56.4 Z" fill="#111"/>
  <!-- axis arrows -->
  <path d="M112.8,69 L112.8,83.3 L127,83.3" fill="none" stroke="#111" stroke-width="1.5"/>
  <path d="M109.7,71.2 L112.8,65.3 L115.9,71.2 Z" fill="#111"/>
  <path d="M125.7,80.1 L131.8,83.3 L125.7,86.5 Z" fill="#111"/>
  <text x="137" y="85.4" font-size="8.4" textLength="25.2" lengthAdjust="spacingAndGlyphs" stroke="#000" stroke-width="0.22">CD150</text>
  <text transform="translate(116.1 50.5) rotate(-90)" font-size="8.5" text-anchor="middle" textLength="21" lengthAdjust="spacingAndGlyphs" stroke="#000" stroke-width="0.22">CD48</text>
</g>

<!-- ============ Plot 3 : CD41:YFP ============ -->
<g>
  <ellipse cx="234" cy="26.2" rx="25.5" ry="6.4" fill="#c4c4c4" filter="url(#soft2)"/>
  <ellipse cx="229" cy="26.2" rx="18" ry="4.4" fill="#5c5c5c" filter="url(#soft2)"/>
  <path d="M216.5,23.5 C224,21.7 237,21.8 246,23.7" fill="none" stroke="#0a0a0a" stroke-width="1.9" opacity="0.85" stroke-linecap="round" filter="url(#soft)"/>
  <path d="M214,28.8 C222,30.6 237,30.6 246,28.9" fill="none" stroke="#0a0a0a" stroke-width="1.8" opacity="0.85" stroke-linecap="round" filter="url(#soft)"/>
  <path d="M216,26.2 L240,26.2" fill="none" stroke="#222" stroke-width="1.5" stroke-dasharray="5 1.2 7 1 4 1.4" filter="url(#soft)"/>
  <ellipse cx="212.6" cy="26.2" rx="1.9" ry="3.6" fill="#111" filter="url(#soft)"/>
  <path d="M218,24.9 L244,25 M217,27.6 L245,27.5" stroke="#f0f0f0" stroke-width="0.6" fill="none"/>
  <g fill="none" stroke="#5a5a5a" stroke-width="0.45">
    <path d="M244,20.6 C252,20.8 260,23 260.4,26.2 C260,29.6 252,31.8 244,32"/>
    <path d="M244,22 C251,22.4 257.4,23.8 257.6,26.2 C257.4,28.8 251,30.2 244,30.6"/>
    <path d="M245,23.6 C250,23.8 254.6,24.6 254.8,26.2 C254.6,27.8 250,28.8 245,29"/>
    <path d="M246,24.8 C249,25 251.6,25.4 251.8,26.2 C251.6,27 249,27.5 246,27.7"/>
  </g>
  <rect x="209.1" y="0.45" width="71.6" height="71.3" fill="none" stroke="#484848" stroke-width="0.8"/>
  <line x1="209.6" y1="20" x2="209.6" y2="71.8" stroke="#222" stroke-width="1.2" stroke-dasharray="1.3 0.8"/>
  <line x1="209" y1="72.4" x2="281" y2="72.4" stroke="#333" stroke-width="0.9" stroke-dasharray="1.1 1.5"/>
  <!-- YFP- gate + gray path -->
  <rect x="210.4" y="15" width="20.2" height="21" fill="none" stroke="#ababab" stroke-width="1.8"/>
  <path d="M230.6,36 L230.6,57.8 L288,57.8" fill="none" stroke="#ababab" stroke-width="1.9"/>
  <path d="M286.6,53.4 L298,57.8 L286.6,62.2 Z" fill="#ababab"/>
  <!-- YFP+ gate + arrow -->
  <rect x="236.8" y="14.8" width="32.2" height="21.4" fill="none" stroke="#1c1c1c" stroke-width="1.9"/>
  <line x1="269" y1="25.2" x2="288" y2="25.2" stroke="#1c1c1c" stroke-width="1.9"/>
  <path d="M286.6,20.8 L298,25.2 L286.6,29.6 Z" fill="#222"/>
  <text x="210.8" y="10.6" font-size="11" font-weight="bold" fill="#ababab" textLength="22.6" lengthAdjust="spacingAndGlyphs" stroke="#ababab" stroke-width="0.3">YFP-</text>
  <text x="243" y="10.6" font-size="11" font-weight="bold" fill="#111" textLength="26" lengthAdjust="spacingAndGlyphs" stroke="#111" stroke-width="0.3">YFP+</text>
  <line x1="210" y1="83.4" x2="225" y2="83.4" stroke="#111" stroke-width="1.5"/>
  <path d="M224,80.3 L230,83.4 L224,86.5 Z" fill="#111"/>
  <text x="232" y="85.9" font-size="8.8" textLength="38" lengthAdjust="spacingAndGlyphs" stroke="#000" stroke-width="0.22">CD41:YFP</text>
</g>

<!-- ============ Scheme ============ -->
<g>
  <text x="278.8" y="39.4" font-size="11" font-weight="bold" textLength="28.4" lengthAdjust="spacingAndGlyphs" stroke="#111" stroke-width="0.3">+200k</text>
  <text x="275.4" y="53.2" font-size="11" font-weight="bold" textLength="36" lengthAdjust="spacingAndGlyphs" stroke="#111" stroke-width="0.3">WT BM</text>
  <text x="364.6" y="13.2" font-size="11" font-weight="bold" textLength="16.4" lengthAdjust="spacingAndGlyphs" stroke="#111" stroke-width="0.3">BM</text>
  <use href="#mouse" x="297.3" y="12.9"/>
  <use href="#mouse" x="297.1" y="51.7"/>
  <path d="M294.3,65.3 L298,65.45" stroke="#8a8a8a" stroke-width="0.8" stroke-linecap="round" fill="none"/>
  <use href="#mouse" x="394.8" y="12.9"/>
  <path d="M392,26.5 L395.6,26.65" stroke="#8a8a8a" stroke-width="0.8" stroke-linecap="round" fill="none"/>
  <use href="#mouse" x="394.8" y="51.8"/>
  <path d="M392,65.4 L395.6,65.55" stroke="#8a8a8a" stroke-width="0.8" stroke-linecap="round" fill="none"/>
  <use href="#rad" x="351.5" y="41.8"/>
  <use href="#rad" x="445.6" y="41"/>
  <line x1="356.3" y1="25.2" x2="376" y2="25.2" stroke="#1c1c1c" stroke-width="1.9"/>
  <path d="M374.4,20.4 L386.2,25.2 L374.4,30 Z" fill="#222"/>
  <line x1="356.3" y1="57.8" x2="376" y2="57.8" stroke="#ababab" stroke-width="1.9"/>
  <path d="M374.4,53 L386.2,57.8 L374.4,62.6 Z" fill="#ababab"/>
</g>

<line x1="291.6" y1="81.2" x2="353" y2="81.2" stroke="#111" stroke-width="1.6"/>
<line x1="291.60" y1="76.2" x2="291.60" y2="86.2" stroke="#111" stroke-width="1.5"/>
<text x="291.60" y="94.4" font-size="8.3" font-weight="bold" text-anchor="middle">0</text>
<line x1="306.95" y1="81.2" x2="306.95" y2="86" stroke="#111" stroke-width="1.4"/>
<text x="306.95" y="94.4" font-size="8.3" font-weight="bold" text-anchor="middle">1</text>
<line x1="322.30" y1="81.2" x2="322.30" y2="86" stroke="#111" stroke-width="1.4"/>
<text x="322.30" y="94.4" font-size="8.3" font-weight="bold" text-anchor="middle">2</text>
<line x1="337.65" y1="81.2" x2="337.65" y2="86" stroke="#111" stroke-width="1.4"/>
<text x="337.65" y="94.4" font-size="8.3" font-weight="bold" text-anchor="middle">3</text>
<line x1="353.00" y1="76.2" x2="353.00" y2="86.2" stroke="#111" stroke-width="1.5"/>
<text x="353.00" y="94.4" font-size="8.3" font-weight="bold" text-anchor="middle">4</text>
<rect x="347.4" y="86.2" width="11.2" height="11" fill="none" stroke="#111" stroke-width="1.9"/>
<line x1="392" y1="81.2" x2="453" y2="81.2" stroke="#111" stroke-width="1.6"/>
<line x1="392.00" y1="76.2" x2="392.00" y2="86.2" stroke="#111" stroke-width="1.5"/>
<text x="392.00" y="94.4" font-size="8.3" font-weight="bold" text-anchor="middle">0</text>
<line x1="407.25" y1="81.2" x2="407.25" y2="86" stroke="#111" stroke-width="1.4"/>
<text x="407.25" y="94.4" font-size="8.3" font-weight="bold" text-anchor="middle">1</text>
<line x1="422.50" y1="81.2" x2="422.50" y2="86" stroke="#111" stroke-width="1.4"/>
<text x="422.50" y="94.4" font-size="8.3" font-weight="bold" text-anchor="middle">2</text>
<line x1="437.75" y1="81.2" x2="437.75" y2="86" stroke="#111" stroke-width="1.4"/>
<text x="437.75" y="94.4" font-size="8.3" font-weight="bold" text-anchor="middle">3</text>
<line x1="453.00" y1="76.2" x2="453.00" y2="86.2" stroke="#111" stroke-width="1.5"/>
<text x="453.00" y="94.4" font-size="8.3" font-weight="bold" text-anchor="middle">4</text>
<rect x="447.4" y="86.2" width="11.2" height="11" fill="none" stroke="#111" stroke-width="1.9"/>
<text x="460.4" y="94.5" font-size="8.4" font-weight="bold" textLength="27.6" lengthAdjust="spacingAndGlyphs">months</text>
</svg></body></html>
